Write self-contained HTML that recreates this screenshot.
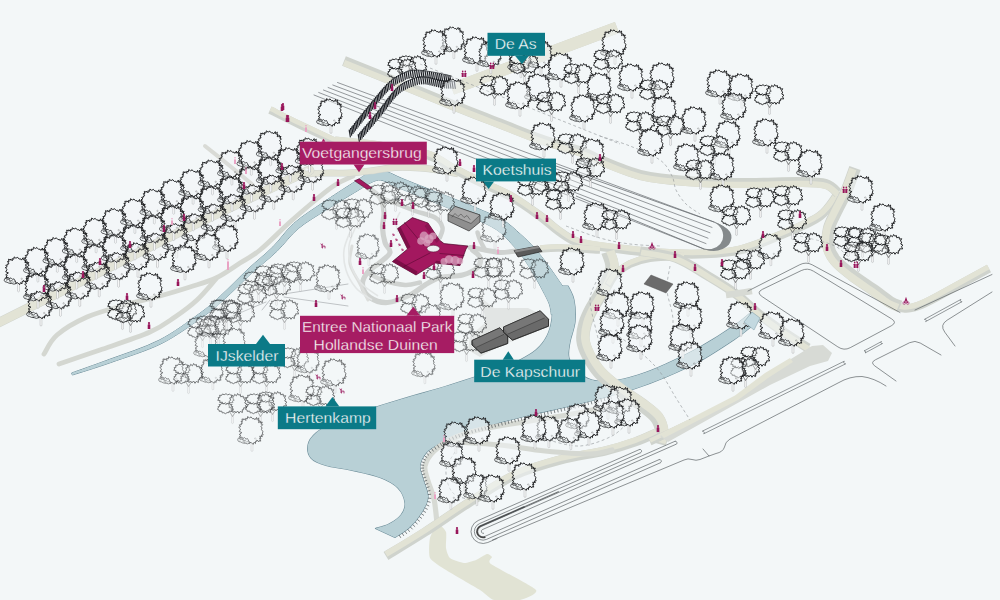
<!DOCTYPE html>
<html><head><meta charset="utf-8"><title>Hollandse Duinen</title>
<style>
html,body{margin:0;padding:0;background:#f3f7f8;}
body{width:1000px;height:600px;overflow:hidden;}
svg{display:block;}
text{font-family:"Liberation Sans",Arial,Helvetica,sans-serif;font-size:14.65px;fill:#fff;}
</style></head><body>
<svg width="1000" height="600" viewBox="0 0 1000 600">
<rect width="1000" height="600" fill="#f3f7f8"/>
<defs>
<g id="t">
<path d="M-0.9,-9 L-0.9,-0.5 Q0,0.6 0.9,-0.5 L0.9,-9" fill="#fff" fill-opacity="1" stroke="#9a9fa2" stroke-width="0.45"/>
<path d="M-1.0,-34.6L0.7,-32.7L2.1,-33.0L2.9,-31.7L4.6,-34.1L4.8,-32.0L6.7,-33.5L6.1,-31.0L7.2,-31.4L6.5,-28.9L8.8,-30.3L8.3,-28.6L10.3,-29.4L9.3,-27.2L10.7,-26.8L8.8,-24.8L10.1,-23.8L9.4,-22.1L11.0,-19.7L10.3,-18.4L11.2,-16.5L9.2,-16.5L10.4,-14.9L7.7,-15.3L9.0,-13.0L7.6,-13.5L8.8,-10.4L7.2,-10.9L6.9,-9.7L4.8,-11.5L4.7,-10.1L3.5,-10.2L3.5,-7.9L2.1,-9.2L1.1,-7.1L-1.0,-9.2L-3.0,-8.2L-3.6,-11.1L-5.2,-9.1L-5.8,-10.2L-7.7,-8.3L-7.5,-10.3L-9.2,-9.9L-8.7,-11.9L-9.7,-12.0L-9.2,-13.5L-11.5,-12.6L-10.6,-14.4L-12.7,-14.2L-11.3,-16.4L-12.8,-17.0L-10.1,-18.9L-12.8,-20.0L-11.4,-22.4L-13.3,-24.2L-11.4,-24.9L-12.7,-26.6L-10.5,-26.9L-10.9,-27.9L-9.6,-28.2L-11.0,-30.3L-9.6,-29.9L-10.0,-32.6L-8.1,-31.7L-8.0,-32.8L-6.2,-31.0L-6.4,-33.1L-4.7,-32.6L-4.4,-34.9L-2.6,-33.6L-0.9,-34.5Z" fill="#f4f8f9" stroke="#1d1f21" stroke-width="0.95" stroke-linejoin="round"/>
<path d="M-2,-8.5 L-3.5,-11 L-4.5,-13 L-6,-12.4 L-7.5,-14 L-9,-13 L-10.5,-14.6 L-12,-13 L-13.6,-13.4 L-14.4,-11.6 L-13.4,-10 L-11.5,-9.6 L-9.5,-8.6 L-7,-8.4 L-4.5,-7.6 Z" fill="#f4f8f9" fill-opacity="0.6" stroke="#212325" stroke-width="0.75" stroke-linejoin="round"/>
<path d="M-12.5,-11.5 L-10,-12.4 L-8,-11 L-6,-11.4" fill="none" stroke="#1d1f21" stroke-width="0.6"/>
<circle cx="3.2" cy="-13" r="0.7" fill="none" stroke="#777" stroke-width="0.4"/>
</g>
<g id="u">
<path d="M-0.8,-8 L-0.8,-0.4 Q0,0.5 0.8,-0.4 L0.8,-8" fill="#fff" fill-opacity="1" stroke="#9a9fa2" stroke-width="0.45"/>
<path d="M-3,-12 L0,-7 L3.5,-12.5" fill="none" stroke="#333" stroke-width="0.6"/>
<path d="M-6.4,-29.7L-4.9,-28.7L-2.9,-29.3L-1.8,-28.5L0.1,-28.1L-0.8,-26.6L1.2,-25.5L0.2,-24.7L1.8,-23.4L-0.1,-22.5L0.5,-20.9L-2.4,-20.9L-2.9,-19.6L-4.7,-20.0L-6.7,-18.8L-8.1,-19.9L-9.9,-19.7L-10.1,-21.3L-12.8,-21.0L-12.4,-22.8L-14.9,-23.4L-13.6,-24.5L-14.4,-25.8L-12.4,-26.3L-13.0,-28.2L-10.8,-28.1L-10.1,-29.5L-8.3,-28.8L-6.6,-29.7Z" fill="#f4f8f9" fill-opacity="0.3" stroke="#1f2123" stroke-width="0.95" stroke-linejoin="round"/>
<path d="M5.0,-30.0L6.3,-28.3L7.9,-29.0L8.2,-26.7L10.7,-27.4L10.9,-25.3L13.2,-25.8L11.9,-23.4L13.3,-22.5L12.2,-20.5L14.5,-19.2L12.9,-18.0L14.2,-15.6L11.2,-15.7L11.1,-13.8L9.8,-13.8L9.9,-11.0L7.8,-12.1L6.5,-10.2L5.1,-12.5L3.5,-10.6L2.2,-12.1L0.3,-11.0L0.3,-13.6L-1.4,-13.8L-1.2,-15.9L-3.5,-15.9L-3.0,-17.7L-4.5,-19.0L-2.9,-20.4L-3.4,-22.1L-1.8,-23.3L-2.8,-25.6L-1.0,-25.8L-1.0,-28.1L1.3,-27.1L2.2,-29.2L3.9,-27.7L5.2,-29.9Z" fill="#f4f8f9" fill-opacity="0.3" stroke="#1f2123" stroke-width="0.95" stroke-linejoin="round"/>
<path d="M-6.8,-20.7L-5.8,-19.8L-3.5,-20.5L-2.7,-19.1L-0.4,-19.1L-1.6,-17.4L0.5,-16.7L-0.8,-15.3L1.1,-14.3L-0.8,-13.4L-0.5,-11.9L-3.3,-12.5L-3.6,-10.9L-5.4,-10.9L-7.1,-9.8L-8.7,-10.8L-10.3,-10.6L-10.7,-12.3L-13.3,-12.2L-13.3,-13.3L-15.2,-14.4L-13.9,-15.6L-14.6,-16.7L-12.4,-17.5L-13.5,-18.8L-11.6,-19.1L-10.9,-20.4L-8.6,-19.8L-7.0,-20.6Z" fill="#f4f8f9" fill-opacity="0.3" stroke="#1f2123" stroke-width="0.95" stroke-linejoin="round"/>
</g>
</defs>
<path d="M547.0,286.0 C547.7,288.3 550.2,294.7 551.0,300.0 C551.8,305.3 552.7,312.0 552.0,318.0 C551.3,324.0 549.7,330.7 547.0,336.0 C544.3,341.3 540.8,345.8 536.0,350.0 C531.2,354.2 524.3,357.8 518.0,361.0 C511.7,364.2 509.3,365.0 498.0,369.0 C486.7,373.0 466.0,380.0 450.0,385.0 C434.0,390.0 415.3,395.0 402.0,399.0 C388.7,403.0 381.2,405.2 370.0,409.0 C358.8,412.8 344.0,418.0 335.0,422.0 C326.0,426.0 320.5,429.2 316.0,433.0 C311.5,436.8 308.8,440.8 308.0,445.0 C307.2,449.2 308.0,454.6 311.0,458.0 C314.0,461.4 319.5,463.5 326.0,465.5 C332.5,467.5 341.0,468.0 350.0,470.0 C359.0,472.0 372.0,474.5 380.0,477.5 C388.0,480.5 393.8,483.8 398.0,488.0 C402.2,492.2 404.5,498.5 405.0,503.0 C405.5,507.5 403.7,511.5 401.0,515.0 C398.3,518.5 393.2,521.8 389.0,524.0 C384.8,526.2 377.8,527.8 375.5,528.5 L375.5,528.5 L395.0,537.5 L395.0,537.5 C397.5,535.8 405.5,531.2 410.0,527.0 C414.5,522.8 419.0,517.0 422.0,512.0 C425.0,507.0 427.8,502.5 428.0,497.0 C428.2,491.5 424.3,484.2 423.0,479.0 C421.7,473.8 419.5,470.3 420.0,466.0 C420.5,461.7 422.7,456.8 426.0,453.0 C429.3,449.2 434.7,446.2 440.0,443.0 C445.3,439.8 449.7,437.0 458.0,434.0 C466.3,431.0 478.0,428.2 490.0,425.0 C502.0,421.8 516.7,418.2 530.0,415.0 C543.3,411.8 558.7,408.7 570.0,406.0 C581.3,403.3 587.3,401.8 598.0,399.0 C608.7,396.2 622.7,392.7 634.0,389.0 C645.3,385.3 655.0,381.7 666.0,377.0 C677.0,372.3 688.5,367.3 700.0,361.0 C711.5,354.7 726.3,344.8 735.0,339.0 C743.7,333.2 747.5,329.5 752.0,326.0 C756.5,322.5 760.3,319.3 762.0,318.0 L762.0,318.0 L756.0,308.0 L756.0,308.0 C752.5,310.8 744.3,318.5 735.0,325.0 C725.7,331.5 711.5,340.5 700.0,347.0 C688.5,353.5 676.3,359.3 666.0,364.0 C655.7,368.7 647.0,372.2 638.0,375.0 C629.0,377.8 619.7,380.2 612.0,381.0 C604.3,381.8 597.7,381.5 592.0,380.0 C586.3,378.5 581.8,375.7 578.0,372.0 C574.2,368.3 570.3,363.0 569.0,358.0 C567.7,353.0 569.0,348.0 570.0,342.0 C571.0,336.0 574.3,329.0 575.0,322.0 C575.7,315.0 575.2,306.0 574.0,300.0 C572.8,294.0 569.0,288.3 568.0,286.0Z" fill="none" stroke="#6f8f9b" stroke-width="1.2" stroke-linejoin="round"/>
<path d="M72.4,375.0 C78.7,373.0 95.8,367.8 110.6,362.6 C125.3,357.3 145.8,351.2 160.9,343.8 C176.0,336.3 190.9,325.2 201.3,317.9 C211.8,310.6 215.2,307.3 223.7,299.9 C232.1,292.4 243.0,281.1 251.9,273.0 C260.8,264.9 269.4,258.6 277.1,251.1 C284.8,243.7 289.9,235.5 298.2,228.6 C306.6,221.6 317.3,215.6 327.2,209.3 C337.1,203.0 349.6,195.5 357.4,190.8 C365.1,186.2 369.4,183.1 373.7,181.4 C378.0,179.7 378.9,179.6 383.0,180.6 C387.1,181.7 391.4,184.8 398.1,187.6 C404.8,190.5 414.8,194.3 423.1,197.6 C431.5,201.0 439.8,204.5 448.1,207.9 C456.3,211.2 464.7,214.1 472.9,217.8 C481.0,221.5 490.5,225.5 496.9,229.9 C503.4,234.2 507.1,239.0 511.5,243.7 C515.9,248.3 519.4,252.5 523.2,257.7 C526.9,262.9 530.6,269.2 533.9,274.7 C537.2,280.2 540.3,286.0 542.9,290.9 C545.4,295.8 547.9,300.1 549.3,304.1 C550.7,308.1 551.0,312.9 551.3,314.7 L572.7,309.3 C572.0,307.1 570.9,300.6 568.7,295.9 C566.4,291.2 562.6,286.2 559.1,281.1 C555.7,276.0 552.1,270.8 548.1,265.3 C544.0,259.8 539.4,253.5 534.8,248.3 C530.2,243.1 525.8,239.0 520.5,234.3 C515.2,229.6 510.3,224.5 503.1,220.1 C495.8,215.8 485.6,211.9 477.1,208.2 C468.6,204.5 460.3,201.4 451.9,198.1 C443.6,194.8 435.2,191.6 426.9,188.4 C418.5,185.1 408.9,181.2 401.9,178.4 C394.9,175.5 390.3,172.3 385.0,171.4 C379.7,170.4 375.7,170.6 370.3,172.6 C364.9,174.5 360.6,178.2 352.6,183.2 C344.7,188.2 332.6,196.0 322.8,202.7 C313.0,209.4 302.1,216.1 293.8,223.4 C285.5,230.8 280.5,239.3 272.9,246.9 C265.3,254.4 256.9,260.8 248.1,269.0 C239.4,277.2 228.6,288.6 220.3,296.1 C212.1,303.7 208.9,306.8 198.7,314.1 C188.5,321.5 174.0,332.7 159.1,340.2 C144.2,347.8 124.0,354.0 109.4,359.4 C94.9,364.9 77.9,370.7 71.6,373.0Z" fill="none" stroke="#6f8f9b" stroke-width="1.0" stroke-linejoin="round"/>
<path d="M547.0,286.0 C547.7,288.3 550.2,294.7 551.0,300.0 C551.8,305.3 552.7,312.0 552.0,318.0 C551.3,324.0 549.7,330.7 547.0,336.0 C544.3,341.3 540.8,345.8 536.0,350.0 C531.2,354.2 524.3,357.8 518.0,361.0 C511.7,364.2 509.3,365.0 498.0,369.0 C486.7,373.0 466.0,380.0 450.0,385.0 C434.0,390.0 415.3,395.0 402.0,399.0 C388.7,403.0 381.2,405.2 370.0,409.0 C358.8,412.8 344.0,418.0 335.0,422.0 C326.0,426.0 320.5,429.2 316.0,433.0 C311.5,436.8 308.8,440.8 308.0,445.0 C307.2,449.2 308.0,454.6 311.0,458.0 C314.0,461.4 319.5,463.5 326.0,465.5 C332.5,467.5 341.0,468.0 350.0,470.0 C359.0,472.0 372.0,474.5 380.0,477.5 C388.0,480.5 393.8,483.8 398.0,488.0 C402.2,492.2 404.5,498.5 405.0,503.0 C405.5,507.5 403.7,511.5 401.0,515.0 C398.3,518.5 393.2,521.8 389.0,524.0 C384.8,526.2 377.8,527.8 375.5,528.5 L375.5,528.5 L395.0,537.5 L395.0,537.5 C397.5,535.8 405.5,531.2 410.0,527.0 C414.5,522.8 419.0,517.0 422.0,512.0 C425.0,507.0 427.8,502.5 428.0,497.0 C428.2,491.5 424.3,484.2 423.0,479.0 C421.7,473.8 419.5,470.3 420.0,466.0 C420.5,461.7 422.7,456.8 426.0,453.0 C429.3,449.2 434.7,446.2 440.0,443.0 C445.3,439.8 449.7,437.0 458.0,434.0 C466.3,431.0 478.0,428.2 490.0,425.0 C502.0,421.8 516.7,418.2 530.0,415.0 C543.3,411.8 558.7,408.7 570.0,406.0 C581.3,403.3 587.3,401.8 598.0,399.0 C608.7,396.2 622.7,392.7 634.0,389.0 C645.3,385.3 655.0,381.7 666.0,377.0 C677.0,372.3 688.5,367.3 700.0,361.0 C711.5,354.7 726.3,344.8 735.0,339.0 C743.7,333.2 747.5,329.5 752.0,326.0 C756.5,322.5 760.3,319.3 762.0,318.0 L762.0,318.0 L756.0,308.0 L756.0,308.0 C752.5,310.8 744.3,318.5 735.0,325.0 C725.7,331.5 711.5,340.5 700.0,347.0 C688.5,353.5 676.3,359.3 666.0,364.0 C655.7,368.7 647.0,372.2 638.0,375.0 C629.0,377.8 619.7,380.2 612.0,381.0 C604.3,381.8 597.7,381.5 592.0,380.0 C586.3,378.5 581.8,375.7 578.0,372.0 C574.2,368.3 570.3,363.0 569.0,358.0 C567.7,353.0 569.0,348.0 570.0,342.0 C571.0,336.0 574.3,329.0 575.0,322.0 C575.7,315.0 575.2,306.0 574.0,300.0 C572.8,294.0 569.0,288.3 568.0,286.0Z" fill="#b8d0d6" stroke="none"/>
<path d="M72.4,375.0 C78.7,373.0 95.8,367.8 110.6,362.6 C125.3,357.3 145.8,351.2 160.9,343.8 C176.0,336.3 190.9,325.2 201.3,317.9 C211.8,310.6 215.2,307.3 223.7,299.9 C232.1,292.4 243.0,281.1 251.9,273.0 C260.8,264.9 269.4,258.6 277.1,251.1 C284.8,243.7 289.9,235.5 298.2,228.6 C306.6,221.6 317.3,215.6 327.2,209.3 C337.1,203.0 349.6,195.5 357.4,190.8 C365.1,186.2 369.4,183.1 373.7,181.4 C378.0,179.7 378.9,179.6 383.0,180.6 C387.1,181.7 391.4,184.8 398.1,187.6 C404.8,190.5 414.8,194.3 423.1,197.6 C431.5,201.0 439.8,204.5 448.1,207.9 C456.3,211.2 464.7,214.1 472.9,217.8 C481.0,221.5 490.5,225.5 496.9,229.9 C503.4,234.2 507.1,239.0 511.5,243.7 C515.9,248.3 519.4,252.5 523.2,257.7 C526.9,262.9 530.6,269.2 533.9,274.7 C537.2,280.2 540.3,286.0 542.9,290.9 C545.4,295.8 547.9,300.1 549.3,304.1 C550.7,308.1 551.0,312.9 551.3,314.7 L572.7,309.3 C572.0,307.1 570.9,300.6 568.7,295.9 C566.4,291.2 562.6,286.2 559.1,281.1 C555.7,276.0 552.1,270.8 548.1,265.3 C544.0,259.8 539.4,253.5 534.8,248.3 C530.2,243.1 525.8,239.0 520.5,234.3 C515.2,229.6 510.3,224.5 503.1,220.1 C495.8,215.8 485.6,211.9 477.1,208.2 C468.6,204.5 460.3,201.4 451.9,198.1 C443.6,194.8 435.2,191.6 426.9,188.4 C418.5,185.1 408.9,181.2 401.9,178.4 C394.9,175.5 390.3,172.3 385.0,171.4 C379.7,170.4 375.7,170.6 370.3,172.6 C364.9,174.5 360.6,178.2 352.6,183.2 C344.7,188.2 332.6,196.0 322.8,202.7 C313.0,209.4 302.1,216.1 293.8,223.4 C285.5,230.8 280.5,239.3 272.9,246.9 C265.3,254.4 256.9,260.8 248.1,269.0 C239.4,277.2 228.6,288.6 220.3,296.1 C212.1,303.7 208.9,306.8 198.7,314.1 C188.5,321.5 174.0,332.7 159.1,340.2 C144.2,347.8 124.0,354.0 109.4,359.4 C94.9,364.9 77.9,370.7 71.6,373.0Z" fill="#b8d0d6" stroke="none"/>
<path d="M438.0,524.0 C439.6,523.4 445.2,529.6 446.0,532.0 C446.8,534.4 445.6,545.4 446.0,548.0 C446.4,550.6 448.2,556.5 450.0,558.0 C451.8,559.5 461.4,562.8 464.0,563.0 C466.6,563.2 473.7,560.9 476.0,560.0 C478.3,559.1 485.4,554.3 487.0,554.0 C488.6,553.7 491.6,556.0 492.0,557.0 C492.4,558.0 486.6,560.7 491.0,564.0 C495.4,567.3 533.1,586.4 536.0,590.0 C538.9,593.6 524.2,599.0 520.0,600.0 C515.8,601.0 498.0,601.0 494.0,600.0 C490.0,599.0 484.8,593.0 480.0,590.0 C475.2,587.0 451.0,573.2 446.0,570.0 C441.0,566.8 431.6,561.2 430.0,558.0 C428.4,554.8 429.2,541.4 430.0,538.0 C430.8,534.6 436.4,524.6 438.0,524.0Z" fill="#e1e3d4"/>
<path d="M44.0,354.0 C46.2,350.8 49.8,341.2 57.0,335.0 C64.2,328.8 75.7,322.0 87.0,317.0 C98.3,312.0 112.8,308.5 125.0,305.0 C137.2,301.5 149.2,299.0 160.0,296.0 C170.8,293.0 180.7,290.0 190.0,287.0 C199.3,284.0 207.7,282.0 216.0,278.0 C224.3,274.0 232.7,267.7 240.0,263.0 C247.3,258.3 251.7,256.8 260.0,250.0 C268.3,243.2 280.3,230.7 290.0,222.0 C299.7,213.3 310.5,204.2 318.0,198.0 C325.5,191.8 329.2,188.7 335.0,185.0 C340.8,181.3 350.0,177.5 353.0,176.0" fill="none" stroke="#d4d7d1" stroke-width="4.8" stroke-linecap="round" stroke-linejoin="round"/>
<path d="M59.0,364.0 C65.8,361.7 84.8,355.3 100.0,350.0 C115.2,344.7 137.5,337.5 150.0,332.0 C162.5,326.5 167.2,322.3 175.0,317.0 C182.8,311.7 190.2,306.3 197.0,300.0 C203.8,293.7 212.8,282.5 216.0,279.0" fill="none" stroke="#d4d7d1" stroke-width="4.8" stroke-linecap="round" stroke-linejoin="round"/>
<path d="M205.0,146.0 C209.2,149.3 222.0,159.5 230.0,166.0 C238.0,172.5 249.2,181.8 253.0,185.0" fill="none" stroke="#d9dbd6" stroke-width="4.0" stroke-linecap="round" stroke-linejoin="round"/>
<path d="M296.0,176.0 C298.7,175.6 306.3,174.0 312.0,173.5 C317.7,173.0 323.7,173.1 330.0,173.0 C336.3,172.9 342.7,173.4 350.0,173.0 C357.3,172.6 366.5,171.4 374.0,170.5 C381.5,169.6 387.3,167.9 395.0,167.5 C402.7,167.1 412.5,167.5 420.0,168.0 C427.5,168.5 433.7,169.5 440.0,170.5 C446.3,171.5 455.0,173.4 458.0,174.0" fill="none" stroke="#cfd3cd" stroke-width="6.8" stroke-linecap="butt" stroke-linejoin="round"/>
<path d="M296.0,176.0 C298.7,175.6 306.3,174.0 312.0,173.5 C317.7,173.0 323.7,173.1 330.0,173.0 C336.3,172.9 342.7,173.4 350.0,173.0 C357.3,172.6 366.5,171.4 374.0,170.5 C381.5,169.6 387.3,167.9 395.0,167.5 C402.7,167.1 412.5,167.5 420.0,168.0 C427.5,168.5 433.7,169.5 440.0,170.5 C446.3,171.5 455.0,173.4 458.0,174.0" fill="none" stroke="#e2e3d5" stroke-width="5.8" stroke-linecap="butt" stroke-linejoin="round" transform="translate(0.00,0.00)"/>
<path d="M-6.0,325.0 C11.7,316.2 65.7,289.2 100.0,272.0 C134.3,254.8 166.7,238.2 200.0,222.0 C233.3,205.8 282.3,182.8 300.0,174.5 C317.7,166.2 305.0,172.8 306.0,172.5" fill="none" stroke="#cfd3cd" stroke-width="9.5" stroke-linecap="butt" stroke-linejoin="round"/>
<path d="M-6.0,325.0 C11.7,316.2 65.7,289.2 100.0,272.0 C134.3,254.8 166.7,238.2 200.0,222.0 C233.3,205.8 282.3,182.8 300.0,174.5 C317.7,166.2 305.0,172.8 306.0,172.5" fill="none" stroke="#e2e3d5" stroke-width="8.6" stroke-linecap="butt" stroke-linejoin="round" transform="translate(0.00,0.00)"/>
<path d="M270.0,110.0 C275.0,112.5 289.2,119.8 300.0,125.0 C310.8,130.2 329.2,138.8 335.0,141.5" fill="none" stroke="#cfd3cd" stroke-width="7.6" stroke-linecap="butt" stroke-linejoin="round"/>
<path d="M270.0,110.0 C275.0,112.5 289.2,119.8 300.0,125.0 C310.8,130.2 329.2,138.8 335.0,141.5" fill="none" stroke="#e2e3d5" stroke-width="4.7" stroke-linecap="butt" stroke-linejoin="round" transform="translate(0.65,-1.30)"/>
<path d="M335.0,141.0 C342.5,141.8 364.5,143.7 380.0,146.0 C395.5,148.3 416.0,151.3 428.0,155.0 C440.0,158.7 443.3,163.5 452.0,168.0 C460.7,172.5 470.3,177.3 480.0,182.0 C489.7,186.7 500.0,190.3 510.0,196.0 C520.0,201.7 531.7,210.0 540.0,216.0 C548.3,222.0 553.3,227.5 560.0,232.0 C566.7,236.5 570.0,240.2 580.0,243.0 C590.0,245.8 606.7,247.3 620.0,249.0 C633.3,250.7 646.7,252.2 660.0,253.0 C673.3,253.8 686.7,254.5 700.0,254.0 C713.3,253.5 725.3,253.7 740.0,250.0 C754.7,246.3 774.7,237.7 788.0,232.0 C801.3,226.3 812.0,221.8 820.0,216.0 C828.0,210.2 833.3,200.2 836.0,197.0" fill="none" stroke="#cfd3cd" stroke-width="9.0" stroke-linecap="butt" stroke-linejoin="round"/>
<path d="M335.0,141.0 C342.5,141.8 364.5,143.7 380.0,146.0 C395.5,148.3 416.0,151.3 428.0,155.0 C440.0,158.7 443.3,163.5 452.0,168.0 C460.7,172.5 470.3,177.3 480.0,182.0 C489.7,186.7 500.0,190.3 510.0,196.0 C520.0,201.7 531.7,210.0 540.0,216.0 C548.3,222.0 553.3,227.5 560.0,232.0 C566.7,236.5 570.0,240.2 580.0,243.0 C590.0,245.8 606.7,247.3 620.0,249.0 C633.3,250.7 646.7,252.2 660.0,253.0 C673.3,253.8 686.7,254.5 700.0,254.0 C713.3,253.5 725.3,253.7 740.0,250.0 C754.7,246.3 774.7,237.7 788.0,232.0 C801.3,226.3 812.0,221.8 820.0,216.0 C828.0,210.2 833.3,200.2 836.0,197.0" fill="none" stroke="#e2e3d5" stroke-width="5.6" stroke-linecap="butt" stroke-linejoin="round" transform="translate(0.00,-1.71)"/>
<path d="M344.0,61.0 C353.3,64.8 382.3,76.3 400.0,83.5 C417.7,90.7 433.3,97.3 450.0,104.0 C466.7,110.7 485.0,117.7 500.0,123.5 C515.0,129.3 526.3,134.2 540.0,139.0 C553.7,143.8 572.0,148.5 582.0,152.0 C592.0,155.5 592.8,157.0 600.0,160.0 C607.2,163.0 616.7,167.2 625.0,170.0 C633.3,172.8 637.5,175.0 650.0,177.0 C662.5,179.0 683.3,181.0 700.0,182.0 C716.7,183.0 733.3,183.0 750.0,183.0 C766.7,183.0 787.3,181.8 800.0,182.0 C812.7,182.2 819.7,182.2 826.0,184.0 C832.3,185.8 836.0,191.5 838.0,193.0" fill="none" stroke="#cfd3cd" stroke-width="10.0" stroke-linecap="butt" stroke-linejoin="round"/>
<path d="M344.0,61.0 C353.3,64.8 382.3,76.3 400.0,83.5 C417.7,90.7 433.3,97.3 450.0,104.0 C466.7,110.7 485.0,117.7 500.0,123.5 C515.0,129.3 526.3,134.2 540.0,139.0 C553.7,143.8 572.0,148.5 582.0,152.0 C592.0,155.5 592.8,157.0 600.0,160.0 C607.2,163.0 616.7,167.2 625.0,170.0 C633.3,172.8 637.5,175.0 650.0,177.0 C662.5,179.0 683.3,181.0 700.0,182.0 C716.7,183.0 733.3,183.0 750.0,183.0 C766.7,183.0 787.3,181.8 800.0,182.0 C812.7,182.2 819.7,182.2 826.0,184.0 C832.3,185.8 836.0,191.5 838.0,193.0" fill="none" stroke="#e2e3d5" stroke-width="6.2" stroke-linecap="butt" stroke-linejoin="round" transform="translate(0.00,1.90)"/>
<path d="M617.0,27.5 L452.0,89.0" fill="none" stroke="#cfd3cd" stroke-width="12.0" stroke-linecap="butt" stroke-linejoin="round"/>
<path d="M617.0,27.5 L452.0,89.0" fill="none" stroke="#e2e3d5" stroke-width="12.0" stroke-linecap="butt" stroke-linejoin="round" transform="translate(0.00,0.00)"/>
<path d="M878.0,294.0 C880.3,295.7 887.5,301.6 892.0,304.0 C896.5,306.4 900.7,308.2 905.0,308.5 C909.3,308.8 912.8,307.8 918.0,306.0 C923.2,304.2 924.2,303.8 936.0,297.5 C947.8,291.2 980.2,273.3 989.0,268.5" fill="none" stroke="#cfd3cd" stroke-width="8.5" stroke-linecap="butt" stroke-linejoin="round"/>
<path d="M878.0,294.0 C880.3,295.7 887.5,301.6 892.0,304.0 C896.5,306.4 900.7,308.2 905.0,308.5 C909.3,308.8 912.8,307.8 918.0,306.0 C923.2,304.2 924.2,303.8 936.0,297.5 C947.8,291.2 980.2,273.3 989.0,268.5" fill="none" stroke="#e2e3d5" stroke-width="5.3" stroke-linecap="butt" stroke-linejoin="round" transform="translate(-0.73,-1.45)"/>
<path d="M855.0,168.0 C853.5,172.0 849.2,184.7 846.0,192.0 C842.8,199.3 838.8,206.0 836.0,212.0 C833.2,218.0 830.3,222.5 829.0,228.0 C827.7,233.5 827.0,239.7 828.0,245.0 C829.0,250.3 831.0,255.0 835.0,260.0 C839.0,265.0 845.3,269.8 852.0,275.0 C858.7,280.2 868.7,286.5 875.0,291.0 C881.3,295.5 885.8,299.4 890.0,302.0 C894.2,304.6 898.3,305.8 900.0,306.5" fill="none" stroke="#cfd3cd" stroke-width="12.0" stroke-linecap="butt" stroke-linejoin="round"/>
<path d="M855.0,168.0 C853.5,172.0 849.2,184.7 846.0,192.0 C842.8,199.3 838.8,206.0 836.0,212.0 C833.2,218.0 830.3,222.5 829.0,228.0 C827.7,233.5 827.0,239.7 828.0,245.0 C829.0,250.3 831.0,255.0 835.0,260.0 C839.0,265.0 845.3,269.8 852.0,275.0 C858.7,280.2 868.7,286.5 875.0,291.0 C881.3,295.5 885.8,299.4 890.0,302.0 C894.2,304.6 898.3,305.8 900.0,306.5" fill="none" stroke="#e2e3d5" stroke-width="7.4" stroke-linecap="butt" stroke-linejoin="round" transform="translate(-2.05,1.03)"/>
<path d="M540.0,249.0 C543.3,248.8 550.0,247.8 560.0,248.0 C570.0,248.2 593.3,249.7 600.0,250.0" fill="none" stroke="#cfd3cd" stroke-width="7.5" stroke-linecap="butt" stroke-linejoin="round"/>
<path d="M540.0,249.0 C543.3,248.8 550.0,247.8 560.0,248.0 C570.0,248.2 593.3,249.7 600.0,250.0" fill="none" stroke="#e2e3d5" stroke-width="4.7" stroke-linecap="butt" stroke-linejoin="round" transform="translate(0.00,-1.43)"/>
<path d="M608.0,252.0 C608.7,254.7 612.7,262.0 612.0,268.0 C611.3,274.0 607.3,281.3 604.0,288.0 C600.7,294.7 595.2,302.0 592.0,308.0 C588.8,314.0 586.5,318.7 585.0,324.0 C583.5,329.3 582.5,334.8 583.0,340.0 C583.5,345.2 585.2,349.5 588.0,355.0 C590.8,360.5 594.7,367.2 600.0,373.0 C605.3,378.8 613.0,384.7 620.0,390.0 C627.0,395.3 635.8,400.3 642.0,405.0 C648.2,409.7 653.7,413.3 657.0,418.0 C660.3,422.7 661.7,428.7 662.0,433.0 C662.3,437.3 659.5,442.2 659.0,444.0" fill="none" stroke="#cfd3cd" stroke-width="13.5" stroke-linecap="butt" stroke-linejoin="round"/>
<path d="M608.0,252.0 C608.7,254.7 612.7,262.0 612.0,268.0 C611.3,274.0 607.3,281.3 604.0,288.0 C600.7,294.7 595.2,302.0 592.0,308.0 C588.8,314.0 586.5,318.7 585.0,324.0 C583.5,329.3 582.5,334.8 583.0,340.0 C583.5,345.2 585.2,349.5 588.0,355.0 C590.8,360.5 594.7,367.2 600.0,373.0 C605.3,378.8 613.0,384.7 620.0,390.0 C627.0,395.3 635.8,400.3 642.0,405.0 C648.2,409.7 653.7,413.3 657.0,418.0 C660.3,422.7 661.7,428.7 662.0,433.0 C662.3,437.3 659.5,442.2 659.0,444.0" fill="none" stroke="#e2e3d5" stroke-width="8.4" stroke-linecap="butt" stroke-linejoin="round" transform="translate(2.31,-1.15)"/>
<path d="M684.0,256.0 C678.3,256.3 659.0,256.7 650.0,258.0 C641.0,259.3 635.7,261.3 630.0,264.0 C624.3,266.7 619.7,270.3 616.0,274.0 C612.3,277.7 609.3,284.0 608.0,286.0" fill="none" stroke="#cfd3cd" stroke-width="8.0" stroke-linecap="butt" stroke-linejoin="round"/>
<path d="M684.0,256.0 C678.3,256.3 659.0,256.7 650.0,258.0 C641.0,259.3 635.7,261.3 630.0,264.0 C624.3,266.7 619.7,270.3 616.0,274.0 C612.3,277.7 609.3,284.0 608.0,286.0" fill="none" stroke="#e2e3d5" stroke-width="5.0" stroke-linecap="butt" stroke-linejoin="round" transform="translate(0.00,-1.52)"/>
<path d="M640.0,251.0 C646.0,252.2 664.7,253.8 676.0,258.0 C687.3,262.2 698.0,270.0 708.0,276.0 C718.0,282.0 727.3,287.5 736.0,294.0 C744.7,300.5 751.8,308.5 760.0,315.0 C768.2,321.5 777.0,327.5 785.0,333.0 C793.0,338.5 804.2,345.5 808.0,348.0" fill="none" stroke="#cfd3cd" stroke-width="9.5" stroke-linecap="butt" stroke-linejoin="round"/>
<path d="M640.0,251.0 C646.0,252.2 664.7,253.8 676.0,258.0 C687.3,262.2 698.0,270.0 708.0,276.0 C718.0,282.0 727.3,287.5 736.0,294.0 C744.7,300.5 751.8,308.5 760.0,315.0 C768.2,321.5 777.0,327.5 785.0,333.0 C793.0,338.5 804.2,345.5 808.0,348.0" fill="none" stroke="#e2e3d5" stroke-width="5.9" stroke-linecap="butt" stroke-linejoin="round" transform="translate(1.08,1.44)"/>
<path d="M726.0,295.0 C728.3,294.7 735.7,293.7 740.0,293.0 C744.3,292.3 750.0,291.3 752.0,291.0" fill="none" stroke="#d7dad4" stroke-width="6.5" stroke-linecap="butt" stroke-linejoin="round"/>
<path d="M437.0,523.0 C436.5,519.0 435.5,506.0 434.0,499.0 C432.5,492.0 429.5,486.5 428.0,481.0 C426.5,475.5 424.0,471.0 425.0,466.0 C426.0,461.0 429.0,455.8 434.0,451.0 C439.0,446.2 446.5,441.2 455.0,437.5 C463.5,433.8 472.5,431.2 485.0,428.5 C497.5,425.8 515.0,423.5 530.0,421.0 C545.0,418.5 560.0,416.2 575.0,413.5 C590.0,410.8 609.5,406.2 620.0,404.5 C630.5,402.8 635.0,403.2 638.0,403.0" fill="none" stroke="#d7dad4" stroke-width="5.2" stroke-linecap="butt" stroke-linejoin="round"/>
<path d="M386.0,556.0 C392.5,552.0 411.0,541.0 425.0,532.0 C439.0,523.0 455.0,511.5 470.0,502.0 C485.0,492.5 500.0,482.0 515.0,475.0 C530.0,468.0 545.0,464.0 560.0,460.0 C575.0,456.0 592.5,454.0 605.0,451.0 C617.5,448.0 626.5,445.0 635.0,442.0 C643.5,439.0 652.5,434.5 656.0,433.0" fill="none" stroke="#cfd3cd" stroke-width="9.2" stroke-linecap="butt" stroke-linejoin="round"/>
<path d="M386.0,556.0 C392.5,552.0 411.0,541.0 425.0,532.0 C439.0,523.0 455.0,511.5 470.0,502.0 C485.0,492.5 500.0,482.0 515.0,475.0 C530.0,468.0 545.0,464.0 560.0,460.0 C575.0,456.0 592.5,454.0 605.0,451.0 C617.5,448.0 626.5,445.0 635.0,442.0 C643.5,439.0 652.5,434.5 656.0,433.0" fill="none" stroke="#e2e3d5" stroke-width="5.7" stroke-linecap="butt" stroke-linejoin="round" transform="translate(0.00,-1.75)"/>
<path d="M455.0,442.0 C462.5,442.5 485.0,443.5 500.0,445.0 C515.0,446.5 530.0,449.5 545.0,451.0 C560.0,452.5 578.8,454.2 590.0,454.0 C601.2,453.8 608.3,450.7 612.0,450.0" fill="none" stroke="#d5d8d2" stroke-width="5.2" stroke-linecap="round" stroke-linejoin="round"/>
<path d="M650.0,442.0 L690.0,423.0" fill="none" stroke="#cfd3cd" stroke-width="7.0" stroke-linecap="butt" stroke-linejoin="round"/>
<path d="M650.0,442.0 L690.0,423.0" fill="none" stroke="#e2e3d5" stroke-width="4.3" stroke-linecap="butt" stroke-linejoin="round" transform="translate(0.00,-1.33)"/>
<path d="M367.5,187.5 C369.6,189.2 377.2,193.3 380.0,197.5 C382.8,201.7 383.6,207.5 384.0,212.5 C384.4,217.5 382.3,222.5 382.5,227.5 C382.7,232.5 383.8,238.3 385.0,242.5 C386.2,246.7 390.8,249.2 390.0,252.5 C389.2,255.8 383.8,259.2 380.0,262.5 C376.2,265.8 370.4,268.8 367.5,272.5 C364.6,276.2 362.1,280.8 362.5,285.0 C362.9,289.2 365.8,294.6 370.0,297.5 C374.2,300.4 380.8,302.9 387.5,302.5 C394.2,302.1 403.8,297.9 410.0,295.0 C416.2,292.1 420.0,287.9 425.0,285.0 C430.0,282.1 433.8,279.2 440.0,277.5 C446.2,275.8 456.2,276.7 462.5,275.0 C468.8,273.3 474.6,270.4 477.5,267.5 C480.4,264.6 480.8,260.4 480.0,257.5 C479.2,254.6 473.8,251.2 472.5,250.0" fill="none" stroke="#cfd2d0" stroke-width="5.2" stroke-linecap="round" stroke-linejoin="round"/>
<path d="M367.5,272.5 C370.0,273.8 376.2,277.9 382.5,280.0 C388.8,282.1 398.8,284.6 405.0,285.0 C411.2,285.4 417.5,282.9 420.0,282.5" fill="none" stroke="#cfd2d0" stroke-width="4.5" stroke-linecap="round" stroke-linejoin="round"/>
<path d="M380.0,197.5 C383.3,198.8 394.2,202.8 400.0,205.0 C405.8,207.2 409.2,208.9 415.0,211.0 C420.8,213.1 430.4,214.8 435.0,217.5 C439.6,220.2 441.7,224.2 442.5,227.5 C443.3,230.8 440.4,235.8 440.0,237.5" fill="none" stroke="#cfd2d0" stroke-width="4.5" stroke-linecap="round" stroke-linejoin="round"/>
<path d="M515.0,251.0 C512.5,251.2 505.0,252.7 500.0,252.5 C495.0,252.3 490.0,250.8 485.0,250.0 C480.0,249.2 472.5,247.9 470.0,247.5" fill="none" stroke="#cfd2d0" stroke-width="5.0" stroke-linecap="round" stroke-linejoin="round"/>
<path d="M485.0,250.0 C484.2,248.3 481.2,242.9 480.0,240.0 C478.8,237.1 477.9,233.8 477.5,232.5" fill="none" stroke="#cfd2d0" stroke-width="4.5" stroke-linecap="round" stroke-linejoin="round"/>
<path d="M352.0,246.0 C351.7,249.0 348.7,257.7 350.0,264.0 C351.3,270.3 357.0,278.0 360.0,284.0 C363.0,290.0 366.7,297.3 368.0,300.0" fill="none" stroke="#dcdedc" stroke-width="3.0" stroke-linecap="round" stroke-linejoin="round"/>
<polygon points="660.0,436.0 735.0,397.5 765.0,375.0 812.0,346.0 823.0,345.0 832.0,353.0 828.0,361.0 810.0,366.0 770.0,385.0 668.0,442.0" fill="#d7dad5" stroke="none" stroke-width="0" stroke-linejoin="round" />
<polygon points="660.0,434.0 735.0,395.5 765.0,373.0 790.0,358.0 793.0,362.0 768.0,378.0 738.0,400.0 664.0,438.0" fill="#e2e3d5" stroke="none" stroke-width="0" stroke-linejoin="round" />
<polyline points="337.5,82.5 714.0,222.0" fill="none" stroke="#6a6f72" stroke-width="0.7" stroke-linecap="round" stroke-linejoin="round" />
<polyline points="332.8,85.0 712.0,227.4" fill="none" stroke="#6a6f72" stroke-width="0.7" stroke-linecap="round" stroke-linejoin="round" />
<polyline points="328.1,87.5 710.0,232.8" fill="none" stroke="#6a6f72" stroke-width="0.7" stroke-linecap="round" stroke-linejoin="round" />
<polyline points="323.4,90.0 708.0,238.2" fill="none" stroke="#6a6f72" stroke-width="0.7" stroke-linecap="round" stroke-linejoin="round" />
<polyline points="318.7,92.5 706.0,243.6" fill="none" stroke="#6a6f72" stroke-width="0.7" stroke-linecap="round" stroke-linejoin="round" />
<polyline points="314.0,95.0 704.0,249.0" fill="none" stroke="#6a6f72" stroke-width="0.7" stroke-linecap="round" stroke-linejoin="round" />
<path d="M556,166 L714,222 Q736,231 727,243 Q718,253 704,249 L576,196" fill="none" stroke="#6a6f72" stroke-width="0.8"/>
<path d="M714,222 Q738,230 729,244.5 Q720,254 704,249.5 Q719,250 722.5,240 Q725.5,229 714,222Z" fill="#858a8c" stroke="none"/>
<path d="M761.8,296.4 Q756.0,292.5 762.3,289.4 L801.2,270.6 Q807.5,267.5 813.5,271.2 L891.5,318.8 Q897.5,322.5 891.3,325.8 L850.2,347.7 Q844.0,351.0 838.2,347.1Z" fill="none" stroke="#5f6467" stroke-width="0.7" stroke-linejoin="round" stroke-linecap="round"/>
<path d="M748.0,291.0 L799.8,264.7 Q806.0,261.5 812.2,264.8 L900.0,312.5" fill="none" stroke="#5f6467" stroke-width="0.7" stroke-linejoin="round" stroke-linecap="round"/>
<path d="M865.0,353.0 L882.5,343.5 A1.1,1.1 0 0 1 881.5,341.5 L864.0,351.0 A1.1,1.1 0 0 1 865.0,353.0Z" fill="none" stroke="#5f6467" stroke-width="0.65"/>
<path d="M925.6,321.6 L962.1,301.6 A1.2,1.2 0 0 1 960.9,299.4 L924.4,319.4 A1.2,1.2 0 0 1 925.6,321.6Z" fill="none" stroke="#5f6467" stroke-width="0.65"/>
<path d="M703.7,433.8 L845.7,363.8 A1.5,1.5 0 0 1 844.3,361.2 L702.3,431.2 A1.5,1.5 0 0 1 703.7,433.8Z" fill="none" stroke="#5f6467" stroke-width="0.65"/>
<path d="M886,386 Q874,378 862,376.5 Q850,376 838,383 L730,439 Q725,442 724.5,447 Q723,452 716,453.5 L709,456 L703,449 M709,456 L700,459.5 Q696,461 692,459.5 Q688,458 684,460 L492.5,540" fill="none" stroke="#5f6467" stroke-width="0.7" stroke-linejoin="round" stroke-linecap="round"/>
<path d="M896.0,381.0 L874.9,366.0 Q870.0,362.5 875.4,359.8 L909.6,342.7 Q915.0,340.0 920.2,343.0 L941.0,355.0" fill="none" stroke="#5f6467" stroke-width="0.7" stroke-linejoin="round" stroke-linecap="round"/>
<path d="M955.0,346.0 L944.8,332.2 Q939.5,325.0 947.1,320.2 L992.0,292.0" fill="none" stroke="#5f6467" stroke-width="0.7" stroke-linejoin="round" stroke-linecap="round"/>
<polyline points="915.0,310.0 992.0,274.5" fill="none" stroke="#5f6467" stroke-width="0.7" stroke-linecap="round" stroke-linejoin="round" />
<path d="M639.2,449.6 L478.2,520.5 A12.0,12.0 0 0 0 487.8,542.5 L497.0,538.5" fill="none" stroke="#5f6467" stroke-width="0.7" stroke-linecap="round"/>
<path d="M640.6,452.7 L479.5,523.6 A8.6,8.6 0 0 0 486.5,539.4 L660.3,462.8" fill="none" stroke="#5f6467" stroke-width="0.7" stroke-linecap="round"/>
<path d="M674.9,441.3 L480.9,526.7 A5.2,5.2 0 0 0 485.1,536.3 L658.9,459.7" fill="none" stroke="#5f6467" stroke-width="0.7" stroke-linecap="round"/>
<path d="M676.2,444.2 L482.2,529.7 A2.0,2.0 0 0 0 483.8,533.3 L483.8,533.3" fill="none" stroke="#5f6467" stroke-width="0.7" stroke-linecap="round"/>
<path d="M639.2,449.6 A1.7,1.7 0 0 1 640.6,452.7" fill="none" stroke="#5f6467" stroke-width="0.7"/>
<path d="M674.9,441.3 A1.6,1.6 0 0 1 676.2,444.2" fill="none" stroke="#5f6467" stroke-width="0.7"/>
<path d="M658.9,459.7 A1.7,1.7 0 0 1 660.3,462.8" fill="none" stroke="#5f6467" stroke-width="0.7"/>
<path d="M480.6,526.0 A6,6 0 0 0 485.4,537.0" fill="none" stroke="#444" stroke-width="1.6"/>
<path d="M480.6,526.0 L524.5,506.7" fill="none" stroke="#4a4e50" stroke-width="1.5" stroke-linecap="round"/>
<path d="M524.5,506.7 L558.4,491.8" fill="none" stroke="#6a6e70" stroke-width="1.1" stroke-linecap="round"/>
<path d="M420.0,64.0 C436.7,70.7 486.7,90.7 520.0,104.0 C553.3,117.3 603.3,137.3 620.0,144.0" fill="none" stroke="#8d9295" stroke-width="0.6" stroke-dasharray="3 2.5"/>
<path d="M600.0,136.0 C605.0,137.7 620.0,142.0 630.0,146.0 C640.0,150.0 653.0,155.0 660.0,160.0 C667.0,165.0 669.3,171.0 672.0,176.0 C674.7,181.0 673.7,185.3 676.0,190.0 C678.3,194.7 682.0,200.0 686.0,204.0 C690.0,208.0 697.7,212.3 700.0,214.0" fill="none" stroke="#8d9295" stroke-width="0.6" stroke-dasharray="3 2.5"/>
<path d="M566.0,226.0 C571.7,228.0 589.3,235.0 600.0,238.0 C610.7,241.0 620.0,242.7 630.0,244.0 C640.0,245.3 655.0,245.7 660.0,246.0" fill="none" stroke="#8d9295" stroke-width="0.6" stroke-dasharray="3 2.5"/>
<path d="M670.0,266.0 C669.5,270.0 666.5,281.0 667.0,290.0 C667.5,299.0 672.7,309.7 673.0,320.0 C673.3,330.3 669.7,346.7 669.0,352.0" fill="none" stroke="#8d9295" stroke-width="0.6" stroke-dasharray="3 2.5"/>
<path d="M596.0,282.0 C595.0,285.0 590.0,292.0 590.0,300.0 C590.0,308.0 594.3,322.5 596.0,330.0 C597.7,337.5 599.3,342.5 600.0,345.0" fill="none" stroke="#8d9295" stroke-width="0.6" stroke-dasharray="3 2.5"/>
<path d="M610.0,330.0 C615.0,333.7 631.7,345.0 640.0,352.0 C648.3,359.0 654.0,364.3 660.0,372.0 C666.0,379.7 671.0,390.0 676.0,398.0 C681.0,406.0 687.7,416.3 690.0,420.0" fill="none" stroke="#8d9295" stroke-width="0.6" stroke-dasharray="3 2.5"/>
<path d="M455.0,452.0 C453.5,455.0 446.5,463.3 446.0,470.0 C445.5,476.7 448.0,487.0 452.0,492.0 C456.0,497.0 467.0,498.7 470.0,500.0" fill="none" stroke="#8d9295" stroke-width="0.6" stroke-dasharray="3 2.5"/>
<path d="M548.0,440.0 C553.3,441.0 569.3,446.7 580.0,446.0 C590.7,445.3 603.7,440.3 612.0,436.0 C620.3,431.7 627.0,422.7 630.0,420.0" fill="none" stroke="#8d9295" stroke-width="0.6" stroke-dasharray="3 2.5"/>
<path d="M800.0,236.0 C805.8,237.7 826.3,241.7 835.0,246.0 C843.7,250.3 849.2,259.3 852.0,262.0" fill="none" stroke="#8d9295" stroke-width="0.6" stroke-dasharray="3 2.5"/>
<path d="M399.1,535.0 L400.8,537.8M402.1,533.1 L403.8,535.9M404.9,531.2 L406.8,533.9M407.7,529.2 L409.7,531.8M410.3,526.9 L412.6,529.3M412.7,524.6 L415.1,526.8M415.0,522.0 L417.5,524.1M417.2,519.4 L419.8,521.4M419.2,516.6 L421.9,518.5M421.2,513.7 L424.0,515.5M423.0,510.8 L425.9,512.5M424.7,507.8 L427.6,509.4M426.2,504.7 L429.2,506.0M427.3,501.4 L430.5,502.3M427.9,498.1 L431.2,498.4M427.8,494.6 L431.1,494.2M427.3,491.2 L430.4,490.4M426.3,487.8 L429.4,486.7M425.2,484.6 L428.3,483.4M424.1,481.3 L427.2,480.2M423.0,478.1 L426.2,477.1M422.0,474.8 L425.1,473.8M421.1,471.5 L424.3,470.6M420.7,468.2 L424.0,468.0M420.8,464.9 L424.1,465.4M421.5,461.8 L424.7,462.8M422.8,458.7 L425.8,460.2M424.5,455.8 L427.2,457.7M426.6,453.2 L429.0,455.4M429.0,450.8 L431.1,453.3M431.6,448.7 L433.5,451.4M434.5,446.8 L436.2,449.5M437.4,444.9 L439.1,447.8M440.3,443.2 L442.0,446.0M443.3,441.4 L444.9,444.3M446.3,439.7 L447.9,442.6M449.2,438.2 L450.7,441.1M452.4,436.7 L453.7,439.7M455.5,435.3 L456.7,438.4M458.7,434.1 L459.8,437.3M461.9,433.0 L462.9,436.2M465.1,432.0 L466.1,435.2M468.4,431.1 L469.3,434.2M471.7,430.2 L472.5,433.3M475.0,429.2 L475.9,432.4M478.3,428.4 L479.2,431.6M481.6,427.5 L482.4,430.7M484.9,426.6 L485.8,429.8M488.2,425.8 L489.0,429.0M491.5,424.9 L492.3,428.1M494.7,424.1 L495.6,427.3M498.1,423.2 L498.9,426.4M501.5,422.3 L502.3,425.5M504.8,421.5 L505.6,424.7M508.1,420.7 L508.9,423.9M511.3,419.9 L512.1,423.1M514.6,419.0 L515.4,422.2M517.9,418.2 L518.7,421.4M521.1,417.4 L521.9,420.7M524.4,416.7 L525.2,419.9M527.7,415.9 L528.5,419.1M530.9,415.1 L531.7,418.3M534.3,414.3 L535.0,417.5M537.6,413.6 L538.3,416.8M540.9,412.8 L541.6,416.0M544.2,412.1 L544.9,415.3M547.5,411.3 L548.2,414.6M550.8,410.6 L551.5,413.8M554.2,409.9 L554.9,413.1M557.5,409.1 L558.2,412.4M560.9,408.4 L561.6,411.6M564.2,407.6 L564.9,410.9M567.6,406.9 L568.3,410.1M571.0,406.1 L571.7,409.3M574.3,405.3 L575.1,408.5M577.8,404.4 L578.6,407.6M581.1,403.6 L581.9,406.8M584.5,402.7 L585.3,405.9M587.8,401.9 L588.6,405.1M591.1,401.1 L591.9,404.3M594.3,400.3 L595.1,403.5M597.5,399.4 L598.3,402.6M600.8,398.6 L601.6,401.8M604.1,397.8 L604.9,401.0M607.4,397.0 L608.2,400.2M610.7,396.1 L611.5,399.3" fill="none" stroke="#3f4548" stroke-width="0.65"/>
<polyline points="284.0,294.0 348.0,284.0" fill="none" stroke="#8a8f92" stroke-width="0.5" stroke-linecap="round" stroke-linejoin="round" />
<polyline points="284.0,297.0 348.0,306.0" fill="none" stroke="#8a8f92" stroke-width="0.5" stroke-linecap="round" stroke-linejoin="round" />
<polyline points="204.0,328.0 266.0,302.0" fill="none" stroke="#8a8f92" stroke-width="0.5" stroke-linecap="round" stroke-linejoin="round" />
<polyline points="262.0,310.0 270.0,300.0" fill="none" stroke="#8a8f92" stroke-width="0.5" stroke-linecap="round" stroke-linejoin="round" />
<path d="M350.0,232.0 C349.0,235.0 344.7,243.7 344.0,250.0 C343.3,256.3 344.0,263.7 346.0,270.0 C348.0,276.3 351.7,283.0 356.0,288.0 C360.3,293.0 369.3,298.0 372.0,300.0" fill="none" stroke="#e3e6e6" stroke-width="1.6"/>
<path d="M356.0,226.0 C354.8,229.3 349.7,239.0 349.0,246.0 C348.3,253.0 349.8,261.7 352.0,268.0 C354.2,274.3 357.7,279.3 362.0,284.0 C366.3,288.7 375.3,294.0 378.0,296.0" fill="none" stroke="#e3e6e6" stroke-width="1.6"/>
<path d="M400.0,212.0 C399.3,213.7 396.3,218.7 396.0,222.0 C395.7,225.3 397.7,230.3 398.0,232.0" fill="none" stroke="#e3e6e6" stroke-width="1.6"/>
<polygon points="478.0,284.0 484.0,300.0 494.0,308.0 528.0,308.0 548.0,318.0 536.0,332.0 500.0,346.0 480.0,357.0 468.0,350.0 470.0,336.0 486.0,322.0" fill="#e2e5e4" stroke="none" stroke-width="0" stroke-linejoin="round" />
<g fill-opacity="0.52">
<use href="#t" transform="translate(453.9,58.8) scale(0.92)"/>
<use href="#t" x="436.0" y="64.5"/>
<use href="#t" x="615.0" y="64.5"/>
<use href="#t" x="477.0" y="71.5"/>
<use href="#t" transform="translate(490.9,73.8) scale(0.92)"/>
<use href="#t" x="541.0" y="75.5"/>
<use href="#t" transform="translate(520.9,77.8) scale(0.92)"/>
<use href="#u" x="608.5" y="79.5"/>
<use href="#u" x="524.5" y="83.5"/>
<use href="#u" x="412.5" y="85.5"/>
<use href="#t" x="561.0" y="87.5"/>
<use href="#u" x="402.5" y="88.5"/>
<use href="#u" x="578.5" y="93.5"/>
<use href="#t" x="663.0" y="97.5"/>
<use href="#t" x="632.0" y="98.5"/>
<use href="#t" x="720.0" y="104.5"/>
<use href="#u" x="494.5" y="105.5"/>
<use href="#t" x="600.0" y="107.5"/>
<use href="#t" x="539.0" y="108.5"/>
<use href="#t" x="742.0" y="108.5"/>
<use href="#u" x="654.5" y="109.5"/>
<use href="#u" x="769.5" y="114.5"/>
<use href="#t" x="520.0" y="116.5"/>
<use href="#u" x="551.5" y="121.5"/>
<use href="#u" x="610.5" y="123.5"/>
<use href="#t" x="735.0" y="127.5"/>
<use href="#t" x="584.0" y="129.5"/>
<use href="#t" x="665.0" y="130.5"/>
<use href="#t" x="331.0" y="133.5"/>
<use href="#t" x="695.0" y="141.5"/>
<use href="#u" x="640.5" y="141.5"/>
<use href="#u" x="670.5" y="145.5"/>
<use href="#t" x="767.0" y="153.5"/>
<use href="#t" x="729.0" y="155.5"/>
<use href="#t" x="544.0" y="157.5"/>
<use href="#t" x="652.0" y="163.5"/>
<use href="#u" x="572.5" y="163.5"/>
<use href="#u" x="714.5" y="165.5"/>
<use href="#t" x="270.7" y="165.7" fill-opacity="0.08"/>
<use href="#u" x="788.5" y="171.5"/>
<use href="#t" x="309.6" y="172.7" fill-opacity="0.08"/>
<use href="#t" x="593.0" y="173.5"/>
<use href="#t" x="251.3" y="175.4" fill-opacity="0.08"/>
<use href="#t" x="688.0" y="178.5"/>
<use href="#t" x="447.0" y="181.5"/>
<use href="#t" x="290.2" y="182.4" fill-opacity="0.08"/>
<use href="#t" x="811.0" y="184.5"/>
<use href="#t" x="231.9" y="185.1" fill-opacity="0.08"/>
<use href="#t" x="723.0" y="187.5"/>
<use href="#u" x="590.5" y="187.5"/>
<use href="#u" x="700.5" y="189.5"/>
<use href="#t" x="312.6" y="190.2" fill-opacity="0.08"/>
<use href="#t" x="270.8" y="192.1" fill-opacity="0.08"/>
<use href="#t" x="212.5" y="194.8" fill-opacity="0.08"/>
<use href="#t" x="293.2" y="199.9" fill-opacity="0.08"/>
<use href="#u" x="548.5" y="201.5"/>
<use href="#u" x="568.5" y="201.5"/>
<use href="#t" x="251.4" y="201.8" fill-opacity="0.08"/>
<use href="#t" x="193.1" y="204.4" fill-opacity="0.08"/>
<use href="#u" x="532.5" y="205.5"/>
<use href="#t" x="273.8" y="209.6" fill-opacity="0.08"/>
<use href="#t" x="862.0" y="210.5"/>
<use href="#t" x="232.0" y="211.5" fill-opacity="0.08"/>
<use href="#t" x="475.0" y="211.5"/>
<use href="#u" x="395.5" y="211.5" opacity="0.62"/>
<use href="#t" x="173.7" y="214.2" fill-opacity="0.08"/>
<use href="#u" x="384.5" y="214.5" opacity="0.62"/>
<use href="#u" x="788.5" y="215.5"/>
<use href="#u" x="412.5" y="215.5" opacity="0.62"/>
<use href="#u" x="760.5" y="217.5"/>
<use href="#u" x="428.5" y="217.5" opacity="0.62"/>
<use href="#t" x="254.4" y="219.3" fill-opacity="0.08"/>
<use href="#t" x="723.0" y="219.5"/>
<use href="#u" x="560.5" y="219.5"/>
<use href="#t" x="212.6" y="221.2" fill-opacity="0.08"/>
<use href="#u" x="440.5" y="221.5" opacity="0.62"/>
<use href="#t" x="154.3" y="223.9" fill-opacity="0.08"/>
<use href="#t" x="503.0" y="227.5"/>
<use href="#u" x="358.5" y="228.5" opacity="0.62"/>
<use href="#t" x="235.0" y="229.0" fill-opacity="0.08"/>
<use href="#u" x="336.5" y="229.5" opacity="0.62"/>
<use href="#t" x="193.2" y="230.9" fill-opacity="0.08"/>
<use href="#t" x="134.9" y="233.6" fill-opacity="0.08"/>
<use href="#u" x="736.5" y="235.5"/>
<use href="#t" x="597.0" y="237.5"/>
<use href="#u" x="350.5" y="237.5" opacity="0.62"/>
<use href="#t" x="884.0" y="238.5"/>
<use href="#t" x="215.6" y="238.7" fill-opacity="0.08"/>
<use href="#u" x="792.5" y="239.5"/>
<use href="#u" x="616.5" y="239.5"/>
<use href="#t" x="173.8" y="240.6" fill-opacity="0.08"/>
<use href="#t" x="115.5" y="243.2" fill-opacity="0.08"/>
<use href="#t" x="196.2" y="248.4" fill-opacity="0.08"/>
<use href="#t" x="495.0" y="249.5" opacity="0.62"/>
<use href="#t" x="154.4" y="250.3" fill-opacity="0.08"/>
<use href="#t" x="96.1" y="252.9" fill-opacity="0.08"/>
<use href="#u" x="848.5" y="256.5"/>
<use href="#u" x="862.5" y="257.5"/>
<use href="#t" x="176.8" y="258.1" fill-opacity="0.08"/>
<use href="#t" x="227.0" y="259.0"/>
<use href="#t" x="135.0" y="260.0" fill-opacity="0.08"/>
<use href="#u" x="808.5" y="262.5"/>
<use href="#u" x="872.5" y="262.5"/>
<use href="#t" x="76.7" y="262.6" fill-opacity="0.08"/>
<use href="#u" x="888.5" y="264.5"/>
<use href="#t" transform="translate(770.9,265.8) scale(0.92)"/>
<use href="#t" transform="translate(368.9,265.8) scale(0.92)" opacity="0.62"/>
<use href="#t" x="157.4" y="267.8" fill-opacity="0.08"/>
<use href="#t" x="209.0" y="268.0"/>
<use href="#t" x="115.6" y="269.7" fill-opacity="0.08"/>
<use href="#u" x="858.5" y="271.5"/>
<use href="#t" x="57.3" y="272.4" fill-opacity="0.08"/>
<use href="#t" x="138.0" y="277.5" fill-opacity="0.08"/>
<use href="#t" x="96.2" y="279.4" fill-opacity="0.08"/>
<use href="#u" x="750.5" y="279.5"/>
<use href="#t" x="185.0" y="280.0"/>
<use href="#t" x="37.9" y="282.1" fill-opacity="0.08"/>
<use href="#t" x="573.0" y="282.5"/>
<use href="#t" x="118.6" y="287.2" fill-opacity="0.08"/>
<use href="#u" x="500.5" y="287.5" opacity="0.62"/>
<use href="#u" x="488.5" y="287.5" opacity="0.62"/>
<use href="#u" x="534.5" y="288.5" opacity="0.62"/>
<use href="#t" x="76.8" y="289.1" fill-opacity="0.08"/>
<use href="#u" x="440.5" y="289.5" opacity="0.62"/>
<use href="#u" x="735.5" y="289.5"/>
<use href="#u" x="300.5" y="291.5" opacity="0.62"/>
<use href="#t" x="18.5" y="291.8" fill-opacity="0.08"/>
<use href="#u" x="284.5" y="293.5" opacity="0.62"/>
<use href="#u" x="384.5" y="293.5" opacity="0.62"/>
<use href="#u" x="269.5" y="295.5" opacity="0.62"/>
<use href="#t" x="99.2" y="296.9" fill-opacity="0.08"/>
<use href="#t" x="57.4" y="298.8" fill-opacity="0.08"/>
<use href="#t" x="329.0" y="299.5" opacity="0.62"/>
<use href="#u" x="258.5" y="301.5" opacity="0.62"/>
<use href="#t" x="611.0" y="303.5"/>
<use href="#u" x="276.5" y="305.5" opacity="0.62"/>
<use href="#t" x="79.8" y="306.6" fill-opacity="0.08"/>
<use href="#t" x="151.0" y="307.5"/>
<use href="#t" x="38.0" y="308.5" fill-opacity="0.08"/>
<use href="#u" x="508.5" y="309.5" opacity="0.62"/>
<use href="#u" x="252.5" y="313.5" opacity="0.62"/>
<use href="#t" x="60.4" y="316.3" fill-opacity="0.08"/>
<use href="#t" x="688.0" y="316.5"/>
<use href="#t" x="453.0" y="317.5" opacity="0.62"/>
<use href="#u" x="482.5" y="317.5" opacity="0.62"/>
<use href="#u" x="415.5" y="323.5" opacity="0.62"/>
<use href="#t" x="41.0" y="326.0" fill-opacity="0.08"/>
<use href="#t" x="618.0" y="326.5"/>
<use href="#t" x="643.0" y="326.5"/>
<use href="#u" x="226.5" y="329.5" opacity="0.62"/>
<use href="#u" x="284.5" y="329.5" opacity="0.62"/>
<use href="#u" x="224.5" y="329.5" opacity="0.62"/>
<use href="#u" x="122.5" y="329.5"/>
<use href="#u" x="240.5" y="332.5" opacity="0.62"/>
<use href="#u" x="130.5" y="332.5"/>
<use href="#t" transform="translate(430.9,335.8) scale(0.92)" opacity="0.62"/>
<use href="#t" x="741.0" y="336.5"/>
<use href="#t" x="691.0" y="338.5"/>
<use href="#u" x="472.5" y="343.5" opacity="0.62"/>
<use href="#t" x="613.0" y="343.5"/>
<use href="#u" x="210.5" y="345.5" opacity="0.62"/>
<use href="#u" x="218.5" y="345.5" opacity="0.62"/>
<use href="#t" x="641.0" y="346.5"/>
<use href="#t" x="773.0" y="346.5"/>
<use href="#u" x="202.5" y="347.5" opacity="0.62"/>
<use href="#t" x="793.0" y="353.5"/>
<use href="#t" x="683.0" y="358.5"/>
<use href="#t" x="641.0" y="359.5"/>
<use href="#t" transform="translate(234.9,359.8) scale(0.92)" opacity="0.62"/>
<use href="#u" x="466.5" y="361.5" opacity="0.62"/>
<use href="#t" transform="translate(206.9,363.8) scale(0.92)" opacity="0.62"/>
<use href="#t" x="611.0" y="368.5"/>
<use href="#t" x="691.0" y="376.5"/>
<use href="#u" x="755.5" y="376.5"/>
<use href="#u" x="294.5" y="377.5" opacity="0.62"/>
<use href="#t" transform="translate(308.9,379.8) scale(0.92)" opacity="0.62"/>
<use href="#t" transform="translate(424.9,383.8) scale(0.92)" opacity="0.62"/>
<use href="#u" x="745.5" y="387.5"/>
<use href="#t" transform="translate(212.9,389.8) scale(0.92)" opacity="0.62"/>
<use href="#t" x="733.0" y="391.5"/>
<use href="#t" x="173.0" y="391.5" opacity="0.62"/>
<use href="#t" x="335.0" y="393.5" opacity="0.62"/>
<use href="#u" x="240.5" y="393.5" opacity="0.62"/>
<use href="#u" x="266.5" y="393.5" opacity="0.62"/>
<use href="#u" x="188.5" y="393.5" opacity="0.62"/>
<use href="#t" x="303.0" y="409.5" opacity="0.62"/>
<use href="#u" x="320.5" y="415.5" opacity="0.62"/>
<use href="#t" x="608.0" y="419.5"/>
<use href="#t" x="621.0" y="421.5"/>
<use href="#u" x="272.5" y="421.5" opacity="0.62"/>
<use href="#u" x="232.5" y="423.5" opacity="0.62"/>
<use href="#u" x="260.5" y="423.5" opacity="0.62"/>
<use href="#t" x="629.0" y="433.5"/>
<use href="#t" x="613.0" y="435.5"/>
<use href="#t" transform="translate(578.9,435.8) scale(0.92)"/>
<use href="#t" x="589.0" y="445.5"/>
<use href="#t" transform="translate(548.9,447.8) scale(0.92)"/>
<use href="#t" x="535.0" y="449.5"/>
<use href="#t" transform="translate(570.9,449.8) scale(0.92)"/>
<use href="#t" x="479.0" y="451.5"/>
<use href="#t" x="252.0" y="451.5" opacity="0.62"/>
<use href="#t" transform="translate(455.9,453.8) scale(0.92)"/>
<use href="#t" x="509.0" y="471.5"/>
<use href="#t" transform="translate(452.9,473.8) scale(0.92)"/>
<use href="#t" x="465.0" y="491.5"/>
<use href="#t" x="525.0" y="497.5"/>
<use href="#t" transform="translate(476.9,505.8) scale(0.92)"/>
<use href="#t" x="493.0" y="509.5"/>
<use href="#t" transform="translate(450.9,509.8) scale(0.92)"/>
</g>
<polygon points="412.4,217.6 428.0,223.0 439.4,240.0 444.0,243.6 468.0,246.0 466.0,249.0 460.0,265.6 435.0,263.0 416.0,275.0 392.4,261.6 407.6,249.0 397.6,228.6" fill="#a3185f" stroke="#4d072b" stroke-width="0.7" stroke-linejoin="round" />
<polygon points="392.4,261.6 416.0,275.0 417.5,271.5 396.0,259.0" fill="#7c0f47" stroke="none" stroke-width="0" stroke-linejoin="round" />
<polygon points="397.6,228.6 407.6,249.0 410.5,247.0 400.5,227.0" fill="#7c0f47" stroke="none" stroke-width="0" stroke-linejoin="round" />
<polygon points="435.0,263.0 460.0,265.6 460.6,263.4 436.0,260.8" fill="#7c0f47" stroke="none" stroke-width="0" stroke-linejoin="round" />
<polygon points="428.0,223.0 439.4,240.0 436.5,243.0 424.5,226.0" fill="#8d1352" stroke="none" stroke-width="0" stroke-linejoin="round" />
<polyline points="404.5,222.5 423.5,245.5" fill="none" stroke="#4d072b" stroke-width="0.5" stroke-linecap="round" stroke-linejoin="round" />
<polyline points="404.0,266.5 430.0,253.0" fill="none" stroke="#4d072b" stroke-width="0.5" stroke-linecap="round" stroke-linejoin="round" />
<polyline points="440.0,253.5 464.0,255.5" fill="none" stroke="#4d072b" stroke-width="0.5" stroke-linecap="round" stroke-linejoin="round" />
<ellipse cx="433.3" cy="248.6" rx="6.4" ry="3.3" fill="#eef1f2" stroke="#4d072b" stroke-width="0.5"/>
<circle cx="424.0" cy="236.0" r="4.4" fill="#d9a6c0" fill-opacity="0.75"/>
<circle cx="429.0" cy="239.0" r="4.6" fill="#d9a6c0" fill-opacity="0.75"/>
<circle cx="421.0" cy="241.0" r="3.8" fill="#d9a6c0" fill-opacity="0.75"/>
<circle cx="433.0" cy="236.0" r="3.6" fill="#d9a6c0" fill-opacity="0.75"/>
<circle cx="427.0" cy="243.0" r="3.4" fill="#d9a6c0" fill-opacity="0.75"/>
<circle cx="449.0" cy="259.5" r="4.3" fill="#d9a6c0" fill-opacity="0.75"/>
<circle cx="455.0" cy="260.5" r="4.5" fill="#d9a6c0" fill-opacity="0.75"/>
<circle cx="444.0" cy="261.5" r="3.5" fill="#d9a6c0" fill-opacity="0.75"/>
<circle cx="460.0" cy="261.0" r="3.2" fill="#d9a6c0" fill-opacity="0.75"/>
<path d="M392.0,234.0 l2.4,1.2 m-1,-1.6 l1,1.6 l-1.8,0.6" stroke="#a3185f" stroke-width="0.7" fill="none"/>
<path d="M395.0,239.0 l2.4,1.2 m-1,-1.6 l1,1.6 l-1.8,0.6" stroke="#a3185f" stroke-width="0.7" fill="none"/>
<path d="M398.0,244.0 l2.4,1.2 m-1,-1.6 l1,1.6 l-1.8,0.6" stroke="#a3185f" stroke-width="0.7" fill="none"/>
<path d="M401.0,249.0 l2.4,1.2 m-1,-1.6 l1,1.6 l-1.8,0.6" stroke="#a3185f" stroke-width="0.7" fill="none"/>
<polygon points="448.0,214.0 455.0,206.4 480.0,215.0 480.0,222.0 469.0,231.0 448.0,221.0" fill="#8f8f8f" stroke="#2f2f2f" stroke-width="0.7" stroke-linejoin="round" />
<polygon points="448.0,214.0 455.0,206.4 480.0,215.0 471.0,223.5" fill="#a9a9a9" stroke="#2f2f2f" stroke-width="0.5" stroke-linejoin="round" />
<polyline points="452.0,217.0 455.0,213.5 458.0,216.5 461.0,214.0 464.0,217.5 467.0,215.5 470.0,219.5" fill="none" stroke="#3a3a3a" stroke-width="0.5" stroke-linecap="round" stroke-linejoin="round" />
<polygon points="472.0,340.5 499.8,327.8 507.7,336.0 507.7,343.5 481.0,353.2 472.0,345.0" fill="#6a6a6a" stroke="#262626" stroke-width="0.7" stroke-linejoin="round" />
<polygon points="472.0,340.5 499.8,327.8 507.7,336.0 503.7,334.5 476.5,347.2" fill="#777" stroke="none" stroke-width="0" stroke-linejoin="round" />
<polyline points="476.5,347.2 503.7,334.5" fill="none" stroke="#2e2e2e" stroke-width="0.5" stroke-linecap="round" stroke-linejoin="round" />
<polygon points="472.0,340.5 499.8,327.8 507.7,336.0 507.7,343.5 481.0,353.2 472.0,345.0" fill="none" stroke="#262626" stroke-width="0.7" stroke-linejoin="round" />
<polygon points="503.5,327.0 540.2,310.8 548.5,319.2 548.5,326.2 512.5,340.2 503.5,332.2" fill="#6a6a6a" stroke="#262626" stroke-width="0.7" stroke-linejoin="round" />
<polygon points="503.5,327.0 540.2,310.8 548.5,319.2 544.3,318.0 508.0,334.0" fill="#777" stroke="none" stroke-width="0" stroke-linejoin="round" />
<polyline points="508.0,334.0 544.3,318.0" fill="none" stroke="#2e2e2e" stroke-width="0.5" stroke-linecap="round" stroke-linejoin="round" />
<polygon points="503.5,327.0 540.2,310.8 548.5,319.2 548.5,326.2 512.5,340.2 503.5,332.2" fill="none" stroke="#262626" stroke-width="0.7" stroke-linejoin="round" />
<polygon points="651.0,275.0 673.0,284.0 666.0,293.0 644.0,284.0" fill="#6b6b6b" stroke="#444" stroke-width="0.4" stroke-linejoin="round" />
<polygon points="514.0,250.5 538.0,246.0 542.0,251.5 518.0,257.0" fill="#5a5a5a" stroke="#222" stroke-width="0.7" stroke-linejoin="round" />
<polygon points="514.0,250.5 538.0,246.0 539.4,248.0 515.4,252.6" fill="#8a8a8a" stroke="none" stroke-width="0" stroke-linejoin="round" />
<polygon points="354.5,180.8 359.2,178.8 371.8,187.8 367.2,189.3" fill="#a3185f" stroke="#4d072b" stroke-width="0.6" stroke-linejoin="round" />
<polygon points="752.0,312.0 760.0,318.0 754.0,330.0 744.0,322.0" fill="#c3d9e0" stroke="#7b98a3" stroke-width="0.5" stroke-linejoin="round" />
<path d="M349.8,133.5 C353.2,129.2 363.4,116.0 370.0,108.0 C376.6,100.0 383.8,90.8 389.5,85.5 C395.2,80.2 400.2,78.2 404.5,76.2 C408.8,74.2 410.2,73.8 415.0,73.8 C419.8,73.8 427.0,75.0 433.0,76.0 C439.0,77.0 448.0,79.2 451.0,79.8" fill="none" stroke="#dfe2e4" stroke-width="6"/>
<path d="M350.4,137.3 L349.2,129.7M351.7,135.6 L350.5,128.0M353.0,134.0 L351.8,126.4M354.3,132.4 L353.1,124.8M355.6,130.6 L354.4,123.0M356.9,129.0 L355.7,121.4M358.2,127.3 L357.0,119.7M359.6,125.5 L358.4,117.9M360.9,123.9 L359.7,116.3M362.1,122.3 L360.9,114.7M363.4,120.7 L362.2,113.1M364.7,119.1 L363.5,111.5M365.9,117.6 L364.7,110.0M367.3,115.8 L366.1,108.2M368.7,114.1 L367.5,106.5M370.0,112.6 L368.8,105.0M371.3,111.0 L370.1,103.4M372.6,109.3 L371.4,101.7M374.0,107.7 L372.8,100.1M375.3,106.0 L374.1,98.4M376.7,104.4 L375.5,96.8M378.1,102.7 L376.9,95.1M379.4,101.1 L378.2,93.5M380.8,99.4 L379.6,91.8M382.1,97.9 L380.9,90.3M383.4,96.3 L382.2,88.7M384.9,94.7 L383.7,87.1M386.3,93.1 L385.1,85.5M387.7,91.6 L386.5,84.0M389.2,90.1 L388.0,82.5M390.8,88.6 L389.6,81.0M392.5,87.2 L391.3,79.6M394.2,86.0 L393.0,78.4M396.0,84.7 L394.8,77.1M397.7,83.6 L396.5,76.0M399.6,82.6 L398.4,75.0M401.5,81.7 L400.3,74.1M403.4,80.8 L402.2,73.2M405.4,79.9 L404.2,72.3M407.2,79.1 L406.0,71.5M409.2,78.3 L408.0,70.7M411.3,77.9 L410.1,70.3M413.5,77.7 L412.3,70.1M415.6,77.6 L414.4,70.0M417.7,77.7 L416.5,70.1M419.8,77.8 L418.6,70.2M422.1,78.0 L420.9,70.4M424.1,78.3 L422.9,70.7M426.3,78.6 L425.1,71.0M428.4,78.9 L427.2,71.3M430.5,79.3 L429.3,71.7M432.6,79.6 L431.4,72.0M434.6,80.0 L433.4,72.4M436.8,80.4 L435.6,72.8M438.7,80.8 L437.5,73.2M440.7,81.2 L439.5,73.6M442.7,81.6 L441.5,74.0M445.0,82.1 L443.8,74.5M447.0,82.6 L445.8,75.0M449.1,83.0 L447.9,75.4M451.1,83.5 L449.9,75.9" fill="none" stroke="#1c1f24" stroke-width="1.15" stroke-linecap="butt"/>
<path d="M349.8,133.5 C353.2,129.2 363.4,116.0 370.0,108.0 C376.6,100.0 383.8,90.8 389.5,85.5 C395.2,80.2 400.2,78.2 404.5,76.2 C408.8,74.2 410.2,73.8 415.0,73.8 C419.8,73.8 427.0,75.0 433.0,76.0 C439.0,77.0 448.0,79.2 451.0,79.8" fill="none" stroke="#202328" stroke-width="0.8" transform="translate(0.6,-3.8)"/>
<path d="M358.8,138.0 C362.2,134.0 372.6,121.8 379.0,114.0 C385.4,106.2 391.5,96.7 397.0,91.5 C402.5,86.3 407.5,84.6 412.0,82.8 C416.5,81.0 419.0,80.3 424.0,80.6 C429.0,80.9 436.8,83.7 442.0,84.4 C447.2,85.1 453.2,84.9 455.5,85.0" fill="none" stroke="#dfe2e4" stroke-width="6"/>
<path d="M359.4,141.8 L358.2,134.2M360.8,140.2 L359.6,132.6M362.2,138.5 L361.0,130.9M363.5,137.0 L362.3,129.4M364.9,135.3 L363.7,127.7M366.3,133.6 L365.1,126.0M367.7,132.0 L366.5,124.4M369.2,130.2 L368.0,122.6M370.5,128.7 L369.3,121.1M371.8,127.1 L370.6,119.5M373.2,125.5 L372.0,117.9M374.5,124.0 L373.3,116.4M375.9,122.2 L374.7,114.6M377.3,120.6 L376.1,113.0M378.7,118.9 L377.5,111.3M379.9,117.4 L378.7,109.8M381.3,115.7 L380.1,108.1M382.6,114.1 L381.4,106.5M383.9,112.3 L382.7,104.7M385.2,110.6 L384.0,103.0M386.5,108.9 L385.3,101.3M387.7,107.2 L386.5,99.6M389.0,105.5 L387.8,97.9M390.3,103.8 L389.1,96.2M391.5,102.2 L390.3,94.6M392.9,100.5 L391.7,92.9M394.2,98.9 L393.0,91.3M395.6,97.4 L394.4,89.8M397.0,95.9 L395.8,88.3M398.6,94.4 L397.4,86.8M400.2,93.1 L399.0,85.5M402.0,91.7 L400.8,84.1M403.8,90.6 L402.6,83.0M405.6,89.6 L404.4,82.0M407.5,88.7 L406.3,81.1M409.4,87.9 L408.2,80.3M411.4,87.1 L410.2,79.5M413.4,86.3 L412.2,78.7M415.4,85.5 L414.2,77.9M417.5,84.9 L416.3,77.3M419.6,84.5 L418.4,76.9M421.8,84.4 L420.6,76.8M424.0,84.4 L422.8,76.8M426.1,84.5 L424.9,76.9M428.2,84.9 L427.0,77.3M430.2,85.3 L429.0,77.7M432.3,85.8 L431.1,78.2M434.4,86.4 L433.2,78.8M436.5,86.9 L435.3,79.3M438.6,87.4 L437.4,79.8M440.6,87.8 L439.4,80.2M442.6,88.2 L441.4,80.6M444.7,88.4 L443.5,80.8M446.8,88.6 L445.6,81.0M448.8,88.7 L447.6,81.1M451.0,88.7 L449.8,81.1M453.2,88.8 L452.0,81.2M455.4,88.8 L454.2,81.2" fill="none" stroke="#1c1f24" stroke-width="1.15" stroke-linecap="butt"/>
<path d="M358.8,138.0 C362.2,134.0 372.6,121.8 379.0,114.0 C385.4,106.2 391.5,96.7 397.0,91.5 C402.5,86.3 407.5,84.6 412.0,82.8 C416.5,81.0 419.0,80.3 424.0,80.6 C429.0,80.9 436.8,83.7 442.0,84.4 C447.2,85.1 453.2,84.9 455.5,85.0" fill="none" stroke="#202328" stroke-width="0.8" transform="translate(0.6,-3.8)"/>
<use href="#t" x="454" y="113.5" fill-opacity="0.5"/>
<path d="M280.7,111.0 l0,-4.2 q1.3,-1.6 2.6,0 l0,4.2 z" fill="#98155a"/><circle cx="282.0" cy="105.1" r="1.1" fill="#98155a"/>
<path d="M285.7,122.0 l0,-4.2 q1.3,-1.6 2.6,0 l0,4.2 z" fill="#98155a"/><circle cx="287.0" cy="116.1" r="1.1" fill="#98155a"/>
<path d="M373.7,109.0 l0,-4.2 q1.3,-1.6 2.6,0 l0,4.2 z" fill="#98155a"/><circle cx="375.0" cy="103.1" r="1.1" fill="#98155a"/>
<path d="M390.7,91.0 l0,-4.2 q1.3,-1.6 2.6,0 l0,4.2 z" fill="#98155a"/><circle cx="392.0" cy="85.1" r="1.1" fill="#98155a"/>
<path d="M368.7,119.0 l0,-4.2 q1.3,-1.6 2.6,0 l0,4.2 z" fill="#98155a"/><circle cx="370.0" cy="113.1" r="1.1" fill="#98155a"/>
<path d="M42.7,292.0 l0,-4.2 q1.3,-1.6 2.6,0 l0,4.2 z" fill="#98155a"/><circle cx="44.0" cy="286.1" r="1.1" fill="#98155a"/>
<path d="M81.7,278.0 l0,-4.2 q1.3,-1.6 2.6,0 l0,4.2 z" fill="#98155a"/><circle cx="83.0" cy="272.1" r="1.1" fill="#98155a"/>
<path d="M98.7,265.0 l0,-4.2 q1.3,-1.6 2.6,0 l0,4.2 z" fill="#98155a"/><circle cx="100.0" cy="259.1" r="1.1" fill="#98155a"/>
<path d="M128.7,248.0 l0,-4.2 q1.3,-1.6 2.6,0 l0,4.2 z" fill="#98155a"/><circle cx="130.0" cy="242.1" r="1.1" fill="#98155a"/>
<path d="M162.7,232.0 l0,-4.2 q1.3,-1.6 2.6,0 l0,4.2 z" fill="#98155a"/><circle cx="164.0" cy="226.1" r="1.1" fill="#98155a"/>
<path d="M182.7,221.0 l0,-4.2 q1.3,-1.6 2.6,0 l0,4.2 z" fill="#98155a"/><circle cx="184.0" cy="215.1" r="1.1" fill="#98155a"/>
<path d="M125.7,300.0 l0,-4.2 q1.3,-1.6 2.6,0 l0,4.2 z" fill="#98155a"/><circle cx="127.0" cy="294.1" r="1.1" fill="#98155a"/>
<path d="M176.7,286.0 l0,-4.2 q1.3,-1.6 2.6,0 l0,4.2 z" fill="#98155a"/><circle cx="178.0" cy="280.1" r="1.1" fill="#98155a"/>
<path d="M147.7,329.0 l0,-4.2 q1.3,-1.6 2.6,0 l0,4.2 z" fill="#98155a"/><circle cx="149.0" cy="323.1" r="1.1" fill="#98155a"/>
<path d="M281.7,110.0 l0,-4.2 q1.3,-1.6 2.6,0 l0,4.2 z" fill="#98155a"/><circle cx="283.0" cy="104.1" r="1.1" fill="#98155a"/>
<path d="M286.7,122.0 l0,-4.2 q1.3,-1.6 2.6,0 l0,4.2 z" fill="#98155a"/><circle cx="288.0" cy="116.1" r="1.1" fill="#98155a"/>
<path d="M280.7,170.0 l0,-4.2 q1.3,-1.6 2.6,0 l0,4.2 z" fill="#98155a"/><circle cx="282.0" cy="164.1" r="1.1" fill="#98155a"/>
<path d="M242.7,189.0 l0,-4.2 q1.3,-1.6 2.6,0 l0,4.2 z" fill="#98155a"/><circle cx="244.0" cy="183.1" r="1.1" fill="#98155a"/>
<path d="M312.7,201.0 l0,-4.2 q1.3,-1.6 2.6,0 l0,4.2 z" fill="#98155a"/><circle cx="314.0" cy="195.1" r="1.1" fill="#98155a"/>
<path d="M336.7,186.0 l0,-4.2 q1.3,-1.6 2.6,0 l0,4.2 z" fill="#98155a"/><circle cx="338.0" cy="180.1" r="1.1" fill="#98155a"/>
<path d="M383.7,219.0 l0,-4.2 q1.3,-1.6 2.6,0 l0,4.2 z" fill="#98155a"/><circle cx="385.0" cy="213.1" r="1.1" fill="#98155a"/>
<path d="M382.7,229.0 l0,-4.2 q1.3,-1.6 2.6,0 l0,4.2 z" fill="#98155a"/><circle cx="384.0" cy="223.1" r="1.1" fill="#98155a"/>
<path d="M400.7,206.0 l0,-4.2 q1.3,-1.6 2.6,0 l0,4.2 z" fill="#98155a"/><circle cx="402.0" cy="200.1" r="1.1" fill="#98155a"/>
<path d="M411.7,209.0 l0,-4.2 q1.3,-1.6 2.6,0 l0,4.2 z" fill="#98155a"/><circle cx="413.0" cy="203.1" r="1.1" fill="#98155a"/>
<path d="M389.7,247.0 l0,-4.2 q1.3,-1.6 2.6,0 l0,4.2 z" fill="#98155a"/><circle cx="391.0" cy="241.1" r="1.1" fill="#98155a"/>
<path d="M358.7,265.0 l0,-4.2 q1.3,-1.6 2.6,0 l0,4.2 z" fill="#98155a"/><circle cx="360.0" cy="259.1" r="1.1" fill="#98155a"/>
<path d="M458.7,166.0 l0,-4.2 q1.3,-1.6 2.6,0 l0,4.2 z" fill="#98155a"/><circle cx="460.0" cy="160.1" r="1.1" fill="#98155a"/>
<path d="M472.7,172.0 l0,-4.2 q1.3,-1.6 2.6,0 l0,4.2 z" fill="#98155a"/><circle cx="474.0" cy="166.1" r="1.1" fill="#98155a"/>
<path d="M509.7,202.0 l0,-4.2 q1.3,-1.6 2.6,0 l0,4.2 z" fill="#98155a"/><circle cx="511.0" cy="196.1" r="1.1" fill="#98155a"/>
<path d="M535.7,219.0 l0,-4.2 q1.3,-1.6 2.6,0 l0,4.2 z" fill="#98155a"/><circle cx="537.0" cy="213.1" r="1.1" fill="#98155a"/>
<path d="M545.7,222.0 l0,-4.2 q1.3,-1.6 2.6,0 l0,4.2 z" fill="#98155a"/><circle cx="547.0" cy="216.1" r="1.1" fill="#98155a"/>
<path d="M571.7,238.0 l0,-4.2 q1.3,-1.6 2.6,0 l0,4.2 z" fill="#98155a"/><circle cx="573.0" cy="232.1" r="1.1" fill="#98155a"/>
<path d="M579.7,243.0 l0,-4.2 q1.3,-1.6 2.6,0 l0,4.2 z" fill="#98155a"/><circle cx="581.0" cy="237.1" r="1.1" fill="#98155a"/>
<path d="M617.7,249.0 l0,-4.2 q1.3,-1.6 2.6,0 l0,4.2 z" fill="#98155a"/><circle cx="619.0" cy="243.1" r="1.1" fill="#98155a"/>
<path d="M472.7,249.0 l0,-4.2 q1.3,-1.6 2.6,0 l0,4.2 z" fill="#98155a"/><circle cx="474.0" cy="243.1" r="1.1" fill="#98155a"/>
<path d="M471.7,278.0 l0,-4.2 q1.3,-1.6 2.6,0 l0,4.2 z" fill="#98155a"/><circle cx="473.0" cy="272.1" r="1.1" fill="#98155a"/>
<path d="M422.7,279.0 l0,-4.2 q1.3,-1.6 2.6,0 l0,4.2 z" fill="#98155a"/><circle cx="424.0" cy="273.1" r="1.1" fill="#98155a"/>
<path d="M432.7,270.0 l0,-4.2 q1.3,-1.6 2.6,0 l0,4.2 z" fill="#98155a"/><circle cx="434.0" cy="264.1" r="1.1" fill="#98155a"/>
<path d="M673.7,258.0 l0,-4.2 q1.3,-1.6 2.6,0 l0,4.2 z" fill="#98155a"/><circle cx="675.0" cy="252.1" r="1.1" fill="#98155a"/>
<path d="M693.7,271.0 l0,-4.2 q1.3,-1.6 2.6,0 l0,4.2 z" fill="#98155a"/><circle cx="695.0" cy="265.1" r="1.1" fill="#98155a"/>
<path d="M720.7,266.0 l0,-4.2 q1.3,-1.6 2.6,0 l0,4.2 z" fill="#98155a"/><circle cx="722.0" cy="260.1" r="1.1" fill="#98155a"/>
<path d="M621.7,272.0 l0,-4.2 q1.3,-1.6 2.6,0 l0,4.2 z" fill="#98155a"/><circle cx="623.0" cy="266.1" r="1.1" fill="#98155a"/>
<path d="M753.7,310.0 l0,-4.2 q1.3,-1.6 2.6,0 l0,4.2 z" fill="#98155a"/><circle cx="755.0" cy="304.1" r="1.1" fill="#98155a"/>
<path d="M598.7,161.0 l0,-4.2 q1.3,-1.6 2.6,0 l0,4.2 z" fill="#98155a"/><circle cx="600.0" cy="155.1" r="1.1" fill="#98155a"/>
<path d="M798.7,218.0 l0,-4.2 q1.3,-1.6 2.6,0 l0,4.2 z" fill="#98155a"/><circle cx="800.0" cy="212.1" r="1.1" fill="#98155a"/>
<path d="M825.7,251.0 l0,-4.2 q1.3,-1.6 2.6,0 l0,4.2 z" fill="#98155a"/><circle cx="827.0" cy="245.1" r="1.1" fill="#98155a"/>
<path d="M839.7,267.0 l0,-4.2 q1.3,-1.6 2.6,0 l0,4.2 z" fill="#98155a"/><circle cx="841.0" cy="261.1" r="1.1" fill="#98155a"/>
<path d="M761.7,238.0 l0,-4.2 q1.3,-1.6 2.6,0 l0,4.2 z" fill="#98155a"/><circle cx="763.0" cy="232.1" r="1.1" fill="#98155a"/>
<path d="M534.7,416.0 l0,-4.2 q1.3,-1.6 2.6,0 l0,4.2 z" fill="#98155a"/><circle cx="536.0" cy="410.1" r="1.1" fill="#98155a"/>
<path d="M656.7,432.0 l0,-4.2 q1.3,-1.6 2.6,0 l0,4.2 z" fill="#98155a"/><circle cx="658.0" cy="426.1" r="1.1" fill="#98155a"/>
<path d="M455.7,534.0 l0,-4.2 q1.3,-1.6 2.6,0 l0,4.2 z" fill="#98155a"/><circle cx="457.0" cy="528.1" r="1.1" fill="#98155a"/>
<path d="M314.7,307.0 l0,-4.2 q1.3,-1.6 2.6,0 l0,4.2 z" fill="#98155a"/><circle cx="316.0" cy="301.1" r="1.1" fill="#98155a"/>
<path d="M395.7,302.0 l0,-4.2 q1.3,-1.6 2.6,0 l0,4.2 z" fill="#98155a"/><circle cx="397.0" cy="296.1" r="1.1" fill="#98155a"/>
<path d="M305.0,132.0 l0,-4.2 q1.0,-1.6 2.0,0 l0,4.2 z" fill="#e9a3c4"/><circle cx="306.0" cy="125.8" r="0.8" fill="#e9a3c4"/>
<path d="M171.0,225.0 l0,-4.2 q1.0,-1.6 2.0,0 l0,4.2 z" fill="#e9a3c4"/><circle cx="172.0" cy="218.8" r="0.8" fill="#e9a3c4"/>
<path d="M227.0,270.0 l0,-4.2 q1.0,-1.6 2.0,0 l0,4.2 z" fill="#e9a3c4"/><circle cx="228.0" cy="263.8" r="0.8" fill="#e9a3c4"/>
<path d="M245.0,174.0 l0,-4.2 q1.0,-1.6 2.0,0 l0,4.2 z" fill="#e9a3c4"/><circle cx="246.0" cy="167.8" r="0.8" fill="#e9a3c4"/>
<path d="M234.0,164.0 l0,-4.2 q1.0,-1.6 2.0,0 l0,4.2 z" fill="#e9a3c4"/><circle cx="235.0" cy="157.8" r="0.8" fill="#e9a3c4"/>
<path d="M279.0,226.0 l0,-4.2 q1.0,-1.6 2.0,0 l0,4.2 z" fill="#e9a3c4"/><circle cx="280.0" cy="219.8" r="0.8" fill="#e9a3c4"/>
<path d="M227.0,266.0 l0,-4.2 q1.0,-1.6 2.0,0 l0,4.2 z" fill="#e9a3c4"/><circle cx="228.0" cy="259.8" r="0.8" fill="#e9a3c4"/>
<path d="M362.0,274.0 l0,-4.2 q1.0,-1.6 2.0,0 l0,4.2 z" fill="#e9a3c4"/><circle cx="363.0" cy="267.8" r="0.8" fill="#e9a3c4"/>
<path d="M497.0,254.0 l0,-4.2 q1.0,-1.6 2.0,0 l0,4.2 z" fill="#e9a3c4"/><circle cx="498.0" cy="247.8" r="0.8" fill="#e9a3c4"/>
<path d="M434.0,499.0 l0,-4.2 q1.0,-1.6 2.0,0 l0,4.2 z" fill="#e9a3c4"/><circle cx="435.0" cy="492.8" r="0.8" fill="#e9a3c4"/>
<path d="M443.0,442.0 l0,-4.2 q1.0,-1.6 2.0,0 l0,4.2 z" fill="#e9a3c4"/><circle cx="444.0" cy="435.8" r="0.8" fill="#e9a3c4"/>
<path d="M461.7,77.0 l0,-3.8 q1.0,-1.6 2.0,0 l0,3.8 z" fill="#98155a"/><circle cx="462.7" cy="71.4" r="0.8" fill="#98155a"/>
<path d="M464.3,77.0 l0,-3.8 q1.0,-1.6 2.0,0 l0,3.8 z" fill="#98155a"/><circle cx="465.3" cy="71.4" r="0.8" fill="#98155a"/>
<path d="M489.7,69.0 l0,-3.8 q1.0,-1.6 2.0,0 l0,3.8 z" fill="#98155a"/><circle cx="490.7" cy="63.4" r="0.8" fill="#98155a"/>
<path d="M492.3,69.0 l0,-3.8 q1.0,-1.6 2.0,0 l0,3.8 z" fill="#98155a"/><circle cx="493.3" cy="63.4" r="0.8" fill="#98155a"/>
<path d="M392.7,225.0 l0,-3.8 q1.0,-1.6 2.0,0 l0,3.8 z" fill="#98155a"/><circle cx="393.7" cy="219.4" r="0.8" fill="#98155a"/>
<path d="M395.3,225.0 l0,-3.8 q1.0,-1.6 2.0,0 l0,3.8 z" fill="#98155a"/><circle cx="396.3" cy="219.4" r="0.8" fill="#98155a"/>
<path d="M594.7,311.0 l0,-3.8 q1.0,-1.6 2.0,0 l0,3.8 z" fill="#98155a"/><circle cx="595.7" cy="305.4" r="0.8" fill="#98155a"/>
<path d="M597.3,311.0 l0,-3.8 q1.0,-1.6 2.0,0 l0,3.8 z" fill="#98155a"/><circle cx="598.3" cy="305.4" r="0.8" fill="#98155a"/>
<path d="M842.7,193.0 l0,-3.8 q1.0,-1.6 2.0,0 l0,3.8 z" fill="#98155a"/><circle cx="843.7" cy="187.4" r="0.8" fill="#98155a"/>
<path d="M845.3,193.0 l0,-3.8 q1.0,-1.6 2.0,0 l0,3.8 z" fill="#98155a"/><circle cx="846.3" cy="187.4" r="0.8" fill="#98155a"/>
<path d="M853.7,268.0 l0,-3.8 q1.0,-1.6 2.0,0 l0,3.8 z" fill="#98155a"/><circle cx="854.7" cy="262.4" r="0.8" fill="#98155a"/>
<path d="M856.3,268.0 l0,-3.8 q1.0,-1.6 2.0,0 l0,3.8 z" fill="#98155a"/><circle cx="857.3" cy="262.4" r="0.8" fill="#98155a"/>
<path d="M650.5,248.0 l1.5,-4.5 l1.5,4.5" fill="none" stroke="#98155a" stroke-width="1.1"/><circle cx="650.2" cy="248.0" r="1.3" fill="none" stroke="#98155a" stroke-width="0.6"/><circle cx="653.8" cy="248.0" r="1.3" fill="none" stroke="#98155a" stroke-width="0.6"/>
<path d="M904.5,303.0 l1.5,-4.5 l1.5,4.5" fill="none" stroke="#98155a" stroke-width="1.1"/><circle cx="904.2" cy="303.0" r="1.3" fill="none" stroke="#98155a" stroke-width="0.6"/><circle cx="907.8" cy="303.0" r="1.3" fill="none" stroke="#98155a" stroke-width="0.6"/>
<path d="M322.0,248.0 l0,-2.6 l-1.2,-1.8 m1.2,1.8 l0.6,-1.8 m-0.6,2.4 l3,0.2 l0,2.2 m-2.2,-2 l-0.3,2" fill="none" stroke="#98155a" stroke-width="0.8"/>
<path d="M317.0,379.0 l0,-2.6 l-1.2,-1.8 m1.2,1.8 l0.6,-1.8 m-0.6,2.4 l3,0.2 l0,2.2 m-2.2,-2 l-0.3,2" fill="none" stroke="#98155a" stroke-width="0.8"/>
<path d="M341.0,393.0 l0,-2.6 l-1.2,-1.8 m1.2,1.8 l0.6,-1.8 m-0.6,2.4 l3,0.2 l0,2.2 m-2.2,-2 l-0.3,2" fill="none" stroke="#98155a" stroke-width="0.8"/>
<path d="M342.0,299.0 l0,-2.6 l-1.2,-1.8 m1.2,1.8 l0.6,-1.8 m-0.6,2.4 l3,0.2 l0,2.2 m-2.2,-2 l-0.3,2" fill="none" stroke="#98155a" stroke-width="0.8"/>
<g><rect x="487.5" y="32.8" width="57.5" height="23.0" fill="#0b7a87"/><polygon points="515.0,55.8 529.0,55.8 522.0,64.0" fill="#0b7a87"/><text transform="translate(515.7,49.2) scale(1.075,1)" text-anchor="middle" stroke="#0b7a87" stroke-width="0.3">De As</text></g>
<g><rect x="299.8" y="141.7" width="127.0" height="22.8" fill="#a61c63"/><polygon points="353.5,164.5 364.5,164.5 359.0,172.3" fill="#a61c63"/><text transform="translate(361.8,157.8) scale(1.075,1)" text-anchor="middle" stroke="#a61c63" stroke-width="0.3">Voetgangersbrug</text></g>
<g><rect x="476.0" y="158.6" width="80.0" height="22.8" fill="#0b7a87"/><polygon points="483.1,181.4 494.1,181.4 488.6,189.0" fill="#0b7a87"/><text transform="translate(517.1,174.8) scale(1.075,1)" text-anchor="middle" stroke="#0b7a87" stroke-width="0.3">Koetshuis</text></g>
<g><rect x="300.0" y="315.8" width="154.2" height="37.3" fill="#a61c63"/><polygon points="406.3,315.8 420.3,315.8 413.3,306.8" fill="#a61c63"/><text transform="translate(377.1,332.0) scale(1.050,1)" text-anchor="middle" stroke="#a61c63" stroke-width="0.3">Entree Nationaal Park</text><text transform="translate(375.6,350.0) scale(1.075,1)" text-anchor="middle" stroke="#a61c63" stroke-width="0.3">Hollandse Duinen</text></g>
<g><rect x="208.0" y="344.0" width="77.0" height="22.5" fill="#0b7a87"/><polygon points="256.0,344.0 270.0,344.0 263.0,334.8" fill="#0b7a87"/><text transform="translate(247.0,360.8) scale(1.075,1)" text-anchor="middle" stroke="#0b7a87" stroke-width="0.3">IJskelder</text></g>
<g><rect x="277.8" y="406.4" width="98.4" height="22.8" fill="#0b7a87"/><polygon points="325.4,406.4 339.4,406.4 332.4,397.0" fill="#0b7a87"/><text transform="translate(327.9,423.0) scale(1.075,1)" text-anchor="middle" stroke="#0b7a87" stroke-width="0.3">Hertenkamp</text></g>
<g><rect x="474.2" y="359.7" width="111.0" height="22.5" fill="#0b7a87"/><polygon points="502.7,359.7 513.9,359.7 508.3,351.3" fill="#0b7a87"/><text transform="translate(530.1,376.5) scale(1.075,1)" text-anchor="middle" stroke="#0b7a87" stroke-width="0.3">De Kapschuur</text></g>
<polygon points="321.5,141.8 325.5,141.8 323.5,138.8" fill="#a61c63"/>
</svg>
</body></html>
